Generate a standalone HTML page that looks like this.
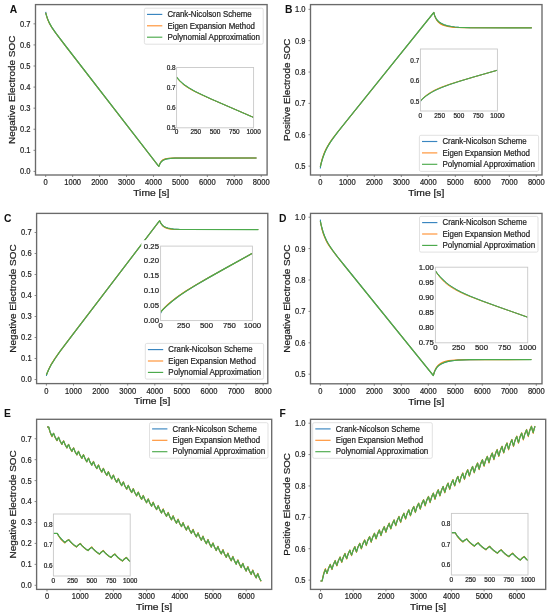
<!DOCTYPE html>
<html><head><meta charset="utf-8"><title>SOC comparison</title>
<style>html,body{margin:0;padding:0;background:#fff;} svg{display:block;will-change:transform;} text{font-family:"Liberation Sans", sans-serif;}</style>
</head><body>
<svg width="550" height="615" viewBox="0 0 550 615" font-family='"Liberation Sans", sans-serif'>
<rect x="0" y="0" width="550" height="615" fill="#fff"/>
<g>
<clipPath id="cA"><rect x="35.5" y="4.6" width="231.60000000000002" height="170.4"/></clipPath>
<g clip-path="url(#cA)" fill="none" stroke-linejoin="round" stroke-linecap="butt">
<path d="M45.7,11.9 46.1,14.5 46.7,16.4 47.8,19.4 49.1,22.4 50.4,24.9 51.9,27.4 56.0,33.4 66.3,46.9 158.6,166.2 158.8,166.4 159.8,164.1 160.7,162.5 161.6,161.4 162.8,160.4 164.2,159.7 165.9,159.1 168.0,158.7 170.3,158.4 175.0,158.1 182.7,158.1 256.5,158.0" stroke="#1f77b4" stroke-width="1.03"/>
<path d="M45.7,12.9 47.2,18.2 48.9,22.6 51.3,26.8 54.9,32.0 63.7,43.6 158.6,166.2 158.8,166.4 159.5,164.3 160.5,162.5 161.4,161.2 162.3,160.3 163.5,159.5 164.9,159.0 166.8,158.6 168.9,158.3 172.9,158.1 179.4,158.0 256.5,158.0" stroke="#ff7f0e" stroke-width="1.03"/>
<path d="M45.7,12.9 47.4,18.4 49.6,23.4 52.3,28.1 56.4,33.9 66.8,47.5 158.6,166.2 158.8,166.4 159.8,164.1 160.7,162.5 161.6,161.4 162.8,160.4 164.2,159.7 165.9,159.1 168.0,158.7 170.3,158.4 175.0,158.1 182.7,158.1 256.5,158.0" stroke="#4caa4c" stroke-width="1.24"/>
</g>
<rect x="35.5" y="4.6" width="231.60000000000002" height="170.4" fill="none" stroke="#6a6a6a" stroke-width="1.35"/>
<line x1="45.70" y1="175.0" x2="45.70" y2="177.0" stroke="#6a6a6a" stroke-width="0.8"/>
<text x="45.70" y="185.00" font-size="8.80" text-anchor="middle" fill="#1e1e1e" stroke="#1e1e1e" stroke-width="0.22" font-weight="normal" textLength="4.20" lengthAdjust="spacingAndGlyphs">0</text>
<line x1="72.64" y1="175.0" x2="72.64" y2="177.0" stroke="#6a6a6a" stroke-width="0.8"/>
<text x="72.64" y="185.00" font-size="8.80" text-anchor="middle" fill="#1e1e1e" stroke="#1e1e1e" stroke-width="0.22" font-weight="normal" textLength="16.80" lengthAdjust="spacingAndGlyphs">1000</text>
<line x1="99.58" y1="175.0" x2="99.58" y2="177.0" stroke="#6a6a6a" stroke-width="0.8"/>
<text x="99.58" y="185.00" font-size="8.80" text-anchor="middle" fill="#1e1e1e" stroke="#1e1e1e" stroke-width="0.22" font-weight="normal" textLength="16.80" lengthAdjust="spacingAndGlyphs">2000</text>
<line x1="126.52" y1="175.0" x2="126.52" y2="177.0" stroke="#6a6a6a" stroke-width="0.8"/>
<text x="126.52" y="185.00" font-size="8.80" text-anchor="middle" fill="#1e1e1e" stroke="#1e1e1e" stroke-width="0.22" font-weight="normal" textLength="16.80" lengthAdjust="spacingAndGlyphs">3000</text>
<line x1="153.46" y1="175.0" x2="153.46" y2="177.0" stroke="#6a6a6a" stroke-width="0.8"/>
<text x="153.46" y="185.00" font-size="8.80" text-anchor="middle" fill="#1e1e1e" stroke="#1e1e1e" stroke-width="0.22" font-weight="normal" textLength="16.80" lengthAdjust="spacingAndGlyphs">4000</text>
<line x1="180.40" y1="175.0" x2="180.40" y2="177.0" stroke="#6a6a6a" stroke-width="0.8"/>
<text x="180.40" y="185.00" font-size="8.80" text-anchor="middle" fill="#1e1e1e" stroke="#1e1e1e" stroke-width="0.22" font-weight="normal" textLength="16.80" lengthAdjust="spacingAndGlyphs">5000</text>
<line x1="207.34" y1="175.0" x2="207.34" y2="177.0" stroke="#6a6a6a" stroke-width="0.8"/>
<text x="207.34" y="185.00" font-size="8.80" text-anchor="middle" fill="#1e1e1e" stroke="#1e1e1e" stroke-width="0.22" font-weight="normal" textLength="16.80" lengthAdjust="spacingAndGlyphs">6000</text>
<line x1="234.28" y1="175.0" x2="234.28" y2="177.0" stroke="#6a6a6a" stroke-width="0.8"/>
<text x="234.28" y="185.00" font-size="8.80" text-anchor="middle" fill="#1e1e1e" stroke="#1e1e1e" stroke-width="0.22" font-weight="normal" textLength="16.80" lengthAdjust="spacingAndGlyphs">7000</text>
<line x1="261.22" y1="175.0" x2="261.22" y2="177.0" stroke="#6a6a6a" stroke-width="0.8"/>
<text x="261.22" y="185.00" font-size="8.80" text-anchor="middle" fill="#1e1e1e" stroke="#1e1e1e" stroke-width="0.22" font-weight="normal" textLength="16.80" lengthAdjust="spacingAndGlyphs">8000</text>
<line x1="33.5" y1="171.40" x2="35.5" y2="171.40" stroke="#6a6a6a" stroke-width="0.8"/>
<text x="30.50" y="174.30" font-size="8.80" text-anchor="end" fill="#1e1e1e" stroke="#1e1e1e" stroke-width="0.22" font-weight="normal" textLength="10.50" lengthAdjust="spacingAndGlyphs">0.0</text>
<line x1="33.5" y1="150.32" x2="35.5" y2="150.32" stroke="#6a6a6a" stroke-width="0.8"/>
<text x="30.50" y="153.22" font-size="8.80" text-anchor="end" fill="#1e1e1e" stroke="#1e1e1e" stroke-width="0.22" font-weight="normal" textLength="10.50" lengthAdjust="spacingAndGlyphs">0.1</text>
<line x1="33.5" y1="129.24" x2="35.5" y2="129.24" stroke="#6a6a6a" stroke-width="0.8"/>
<text x="30.50" y="132.14" font-size="8.80" text-anchor="end" fill="#1e1e1e" stroke="#1e1e1e" stroke-width="0.22" font-weight="normal" textLength="10.50" lengthAdjust="spacingAndGlyphs">0.2</text>
<line x1="33.5" y1="108.16" x2="35.5" y2="108.16" stroke="#6a6a6a" stroke-width="0.8"/>
<text x="30.50" y="111.06" font-size="8.80" text-anchor="end" fill="#1e1e1e" stroke="#1e1e1e" stroke-width="0.22" font-weight="normal" textLength="10.50" lengthAdjust="spacingAndGlyphs">0.3</text>
<line x1="33.5" y1="87.08" x2="35.5" y2="87.08" stroke="#6a6a6a" stroke-width="0.8"/>
<text x="30.50" y="89.98" font-size="8.80" text-anchor="end" fill="#1e1e1e" stroke="#1e1e1e" stroke-width="0.22" font-weight="normal" textLength="10.50" lengthAdjust="spacingAndGlyphs">0.4</text>
<line x1="33.5" y1="66.00" x2="35.5" y2="66.00" stroke="#6a6a6a" stroke-width="0.8"/>
<text x="30.50" y="68.90" font-size="8.80" text-anchor="end" fill="#1e1e1e" stroke="#1e1e1e" stroke-width="0.22" font-weight="normal" textLength="10.50" lengthAdjust="spacingAndGlyphs">0.5</text>
<line x1="33.5" y1="44.92" x2="35.5" y2="44.92" stroke="#6a6a6a" stroke-width="0.8"/>
<text x="30.50" y="47.82" font-size="8.80" text-anchor="end" fill="#1e1e1e" stroke="#1e1e1e" stroke-width="0.22" font-weight="normal" textLength="10.50" lengthAdjust="spacingAndGlyphs">0.6</text>
<line x1="33.5" y1="23.84" x2="35.5" y2="23.84" stroke="#6a6a6a" stroke-width="0.8"/>
<text x="30.50" y="26.74" font-size="8.80" text-anchor="end" fill="#1e1e1e" stroke="#1e1e1e" stroke-width="0.22" font-weight="normal" textLength="10.50" lengthAdjust="spacingAndGlyphs">0.7</text>
<text x="151.30" y="195.70" font-size="8.60" text-anchor="middle" fill="#1e1e1e" stroke="#1e1e1e" stroke-width="0.22" font-weight="normal" textLength="36.19" lengthAdjust="spacingAndGlyphs">Time [s]</text>
<text x="14.90" y="89.80" font-size="8.60" text-anchor="middle" fill="#1e1e1e" stroke="#1e1e1e" stroke-width="0.22" font-weight="normal" textLength="108.25" lengthAdjust="spacingAndGlyphs" transform="rotate(-90 14.90 89.80)">Negative Electrode SOC</text>
<text x="9.8" y="13.1" font-size="10.3" font-weight="bold" fill="#111">A</text>
<rect x="144.4" y="8.2" width="118.79999999999998" height="36.0" rx="1.5" fill="#fff" fill-opacity="0.85" stroke="#d9d9d9" stroke-width="0.8"/>
<line x1="147.0" y1="14.40" x2="162.3" y2="14.40" stroke="#3a86c0" stroke-width="1.15"/>
<text x="167.40" y="17.10" font-size="8.50" text-anchor="start" fill="#1e1e1e" stroke="#1e1e1e" stroke-width="0.22" font-weight="normal" textLength="84.27" lengthAdjust="spacingAndGlyphs">Crank-Nicolson Scheme</text>
<line x1="147.0" y1="25.80" x2="162.3" y2="25.80" stroke="#ff9233" stroke-width="1.15"/>
<text x="167.40" y="28.50" font-size="8.50" text-anchor="start" fill="#1e1e1e" stroke="#1e1e1e" stroke-width="0.22" font-weight="normal" textLength="87.54" lengthAdjust="spacingAndGlyphs">Eigen Expansion Method</text>
<line x1="147.0" y1="37.20" x2="162.3" y2="37.20" stroke="#4caa4c" stroke-width="1.15"/>
<text x="167.40" y="39.90" font-size="8.50" text-anchor="start" fill="#1e1e1e" stroke="#1e1e1e" stroke-width="0.22" font-weight="normal" textLength="92.66" lengthAdjust="spacingAndGlyphs">Polynomial Approximation</text>
<rect x="176.6" y="67.5" width="77.0" height="60.3" fill="#fff" stroke="none"/>
<clipPath id="iA"><rect x="176.6" y="67.5" width="77.0" height="60.3"/></clipPath>
<g clip-path="url(#iA)" fill="none" stroke-linejoin="round">
<path d="M176.6,77.1 178.3,79.2 180.1,81.1 182.1,82.9 184.2,84.7 189.1,88.0 195.1,91.4 202.0,94.8 211.2,99.1 253.6,117.4" stroke="#1f77b4" stroke-width="0.95"/>
<path d="M176.6,77.1 178.1,79.2 179.7,81.1 181.4,82.8 183.2,84.4 185.3,86.0 187.5,87.5 193.0,90.7 199.2,93.7 207.9,97.7 253.6,117.4" stroke="#ff7f0e" stroke-width="0.95"/>
<path d="M176.6,77.1 178.3,79.2 180.1,81.1 182.1,82.9 184.2,84.7 189.1,88.0 195.1,91.4 202.0,94.8 211.2,99.1 253.6,117.4" stroke="#4caa4c" stroke-width="1.13"/>
</g>
<rect x="176.6" y="67.5" width="77.0" height="60.3" fill="none" stroke="#c8c8c8" stroke-width="0.9"/>
<text x="176.60" y="134.32" font-size="6.38" text-anchor="middle" fill="#1e1e1e" stroke="#1e1e1e" stroke-width="0.22" font-weight="normal" textLength="3.56" lengthAdjust="spacingAndGlyphs">0</text>
<text x="195.85" y="134.32" font-size="6.38" text-anchor="middle" fill="#1e1e1e" stroke="#1e1e1e" stroke-width="0.22" font-weight="normal" textLength="10.69" lengthAdjust="spacingAndGlyphs">250</text>
<text x="215.10" y="134.32" font-size="6.38" text-anchor="middle" fill="#1e1e1e" stroke="#1e1e1e" stroke-width="0.22" font-weight="normal" textLength="10.69" lengthAdjust="spacingAndGlyphs">500</text>
<text x="234.35" y="134.32" font-size="6.38" text-anchor="middle" fill="#1e1e1e" stroke="#1e1e1e" stroke-width="0.22" font-weight="normal" textLength="10.69" lengthAdjust="spacingAndGlyphs">750</text>
<text x="253.60" y="134.32" font-size="6.38" text-anchor="middle" fill="#1e1e1e" stroke="#1e1e1e" stroke-width="0.22" font-weight="normal" textLength="14.25" lengthAdjust="spacingAndGlyphs">1000</text>
<text x="175.60" y="129.82" font-size="6.38" text-anchor="end" fill="#1e1e1e" stroke="#1e1e1e" stroke-width="0.22" font-weight="normal" textLength="8.91" lengthAdjust="spacingAndGlyphs">0.5</text>
<text x="175.60" y="109.72" font-size="6.38" text-anchor="end" fill="#1e1e1e" stroke="#1e1e1e" stroke-width="0.22" font-weight="normal" textLength="8.91" lengthAdjust="spacingAndGlyphs">0.6</text>
<text x="175.60" y="89.62" font-size="6.38" text-anchor="end" fill="#1e1e1e" stroke="#1e1e1e" stroke-width="0.22" font-weight="normal" textLength="8.91" lengthAdjust="spacingAndGlyphs">0.7</text>
<text x="175.60" y="69.52" font-size="6.38" text-anchor="end" fill="#1e1e1e" stroke="#1e1e1e" stroke-width="0.22" font-weight="normal" textLength="8.91" lengthAdjust="spacingAndGlyphs">0.8</text>
</g>
<g>
<clipPath id="cB"><rect x="310.5" y="4.6" width="231.5" height="170.4"/></clipPath>
<g clip-path="url(#cB)" fill="none" stroke-linejoin="round" stroke-linecap="butt">
<path d="M320.3,168.5 320.7,165.1 321.8,161.2 323.2,156.5 324.8,152.3 326.5,148.7 328.4,145.3 330.7,141.7 333.5,137.7 338.4,131.2 346.4,121.2 433.8,12.5 434.7,15.7 435.9,18.3 437.3,20.3 439.0,22.0 441.3,23.5 444.1,24.8 447.4,25.8 451.2,26.5 454.7,27.0 458.7,27.3 469.8,27.7 531.8,27.8" stroke="#1f77b4" stroke-width="1.03"/>
<path d="M320.3,167.0 321.2,162.7 322.2,158.7 323.4,155.2 324.6,151.9 326.0,148.9 327.7,145.9 329.6,142.8 332.0,139.4 336.3,133.8 343.6,124.7 433.8,12.5 434.7,15.9 435.7,18.3 436.9,20.4 438.5,22.4 440.6,24.0 443.0,25.2 445.8,26.1 449.1,26.8 452.1,27.2 455.7,27.4 465.5,27.7 531.8,27.8" stroke="#ff7f0e" stroke-width="1.03"/>
<path d="M320.3,167.0 321.4,162.5 322.6,158.4 323.9,154.7 325.3,151.2 326.9,147.9 328.8,144.6 331.0,141.2 333.7,137.4 338.6,130.9 346.6,120.9 433.8,12.5 434.7,15.7 435.9,18.3 437.3,20.3 439.0,22.0 441.3,23.5 444.1,24.8 447.4,25.8 451.2,26.5 454.7,27.0 458.7,27.3 469.8,27.7 531.8,27.8" stroke="#4caa4c" stroke-width="1.24"/>
</g>
<rect x="310.5" y="4.6" width="231.5" height="170.4" fill="none" stroke="#6a6a6a" stroke-width="1.35"/>
<line x1="320.30" y1="175.0" x2="320.30" y2="177.0" stroke="#6a6a6a" stroke-width="0.8"/>
<text x="320.30" y="185.00" font-size="8.80" text-anchor="middle" fill="#1e1e1e" stroke="#1e1e1e" stroke-width="0.22" font-weight="normal" textLength="4.20" lengthAdjust="spacingAndGlyphs">0</text>
<line x1="347.30" y1="175.0" x2="347.30" y2="177.0" stroke="#6a6a6a" stroke-width="0.8"/>
<text x="347.30" y="185.00" font-size="8.80" text-anchor="middle" fill="#1e1e1e" stroke="#1e1e1e" stroke-width="0.22" font-weight="normal" textLength="16.80" lengthAdjust="spacingAndGlyphs">1000</text>
<line x1="374.30" y1="175.0" x2="374.30" y2="177.0" stroke="#6a6a6a" stroke-width="0.8"/>
<text x="374.30" y="185.00" font-size="8.80" text-anchor="middle" fill="#1e1e1e" stroke="#1e1e1e" stroke-width="0.22" font-weight="normal" textLength="16.80" lengthAdjust="spacingAndGlyphs">2000</text>
<line x1="401.30" y1="175.0" x2="401.30" y2="177.0" stroke="#6a6a6a" stroke-width="0.8"/>
<text x="401.30" y="185.00" font-size="8.80" text-anchor="middle" fill="#1e1e1e" stroke="#1e1e1e" stroke-width="0.22" font-weight="normal" textLength="16.80" lengthAdjust="spacingAndGlyphs">3000</text>
<line x1="428.30" y1="175.0" x2="428.30" y2="177.0" stroke="#6a6a6a" stroke-width="0.8"/>
<text x="428.30" y="185.00" font-size="8.80" text-anchor="middle" fill="#1e1e1e" stroke="#1e1e1e" stroke-width="0.22" font-weight="normal" textLength="16.80" lengthAdjust="spacingAndGlyphs">4000</text>
<line x1="455.30" y1="175.0" x2="455.30" y2="177.0" stroke="#6a6a6a" stroke-width="0.8"/>
<text x="455.30" y="185.00" font-size="8.80" text-anchor="middle" fill="#1e1e1e" stroke="#1e1e1e" stroke-width="0.22" font-weight="normal" textLength="16.80" lengthAdjust="spacingAndGlyphs">5000</text>
<line x1="482.30" y1="175.0" x2="482.30" y2="177.0" stroke="#6a6a6a" stroke-width="0.8"/>
<text x="482.30" y="185.00" font-size="8.80" text-anchor="middle" fill="#1e1e1e" stroke="#1e1e1e" stroke-width="0.22" font-weight="normal" textLength="16.80" lengthAdjust="spacingAndGlyphs">6000</text>
<line x1="509.30" y1="175.0" x2="509.30" y2="177.0" stroke="#6a6a6a" stroke-width="0.8"/>
<text x="509.30" y="185.00" font-size="8.80" text-anchor="middle" fill="#1e1e1e" stroke="#1e1e1e" stroke-width="0.22" font-weight="normal" textLength="16.80" lengthAdjust="spacingAndGlyphs">7000</text>
<line x1="536.30" y1="175.0" x2="536.30" y2="177.0" stroke="#6a6a6a" stroke-width="0.8"/>
<text x="536.30" y="185.00" font-size="8.80" text-anchor="middle" fill="#1e1e1e" stroke="#1e1e1e" stroke-width="0.22" font-weight="normal" textLength="16.80" lengthAdjust="spacingAndGlyphs">8000</text>
<line x1="308.5" y1="166.10" x2="310.5" y2="166.10" stroke="#6a6a6a" stroke-width="0.8"/>
<text x="305.50" y="169.00" font-size="8.80" text-anchor="end" fill="#1e1e1e" stroke="#1e1e1e" stroke-width="0.22" font-weight="normal" textLength="10.50" lengthAdjust="spacingAndGlyphs">0.5</text>
<line x1="308.5" y1="134.74" x2="310.5" y2="134.74" stroke="#6a6a6a" stroke-width="0.8"/>
<text x="305.50" y="137.64" font-size="8.80" text-anchor="end" fill="#1e1e1e" stroke="#1e1e1e" stroke-width="0.22" font-weight="normal" textLength="10.50" lengthAdjust="spacingAndGlyphs">0.6</text>
<line x1="308.5" y1="103.38" x2="310.5" y2="103.38" stroke="#6a6a6a" stroke-width="0.8"/>
<text x="305.50" y="106.28" font-size="8.80" text-anchor="end" fill="#1e1e1e" stroke="#1e1e1e" stroke-width="0.22" font-weight="normal" textLength="10.50" lengthAdjust="spacingAndGlyphs">0.7</text>
<line x1="308.5" y1="72.02" x2="310.5" y2="72.02" stroke="#6a6a6a" stroke-width="0.8"/>
<text x="305.50" y="74.92" font-size="8.80" text-anchor="end" fill="#1e1e1e" stroke="#1e1e1e" stroke-width="0.22" font-weight="normal" textLength="10.50" lengthAdjust="spacingAndGlyphs">0.8</text>
<line x1="308.5" y1="40.66" x2="310.5" y2="40.66" stroke="#6a6a6a" stroke-width="0.8"/>
<text x="305.50" y="43.56" font-size="8.80" text-anchor="end" fill="#1e1e1e" stroke="#1e1e1e" stroke-width="0.22" font-weight="normal" textLength="10.50" lengthAdjust="spacingAndGlyphs">0.9</text>
<line x1="308.5" y1="9.30" x2="310.5" y2="9.30" stroke="#6a6a6a" stroke-width="0.8"/>
<text x="305.50" y="12.20" font-size="8.80" text-anchor="end" fill="#1e1e1e" stroke="#1e1e1e" stroke-width="0.22" font-weight="normal" textLength="10.50" lengthAdjust="spacingAndGlyphs">1.0</text>
<text x="426.25" y="195.70" font-size="8.60" text-anchor="middle" fill="#1e1e1e" stroke="#1e1e1e" stroke-width="0.22" font-weight="normal" textLength="36.19" lengthAdjust="spacingAndGlyphs">Time [s]</text>
<text x="289.90" y="89.80" font-size="8.60" text-anchor="middle" fill="#1e1e1e" stroke="#1e1e1e" stroke-width="0.22" font-weight="normal" textLength="102.52" lengthAdjust="spacingAndGlyphs" transform="rotate(-90 289.90 89.80)">Positive Electrode SOC</text>
<text x="285.1" y="13.1" font-size="10.3" font-weight="bold" fill="#111">B</text>
<rect x="419.4" y="135.3" width="119.20000000000005" height="36.099999999999994" rx="1.5" fill="#fff" fill-opacity="0.85" stroke="#d9d9d9" stroke-width="0.8"/>
<line x1="422.0" y1="141.50" x2="437.29999999999995" y2="141.50" stroke="#3a86c0" stroke-width="1.15"/>
<text x="442.40" y="144.20" font-size="8.50" text-anchor="start" fill="#1e1e1e" stroke="#1e1e1e" stroke-width="0.22" font-weight="normal" textLength="84.27" lengthAdjust="spacingAndGlyphs">Crank-Nicolson Scheme</text>
<line x1="422.0" y1="152.90" x2="437.29999999999995" y2="152.90" stroke="#ff9233" stroke-width="1.15"/>
<text x="442.40" y="155.60" font-size="8.50" text-anchor="start" fill="#1e1e1e" stroke="#1e1e1e" stroke-width="0.22" font-weight="normal" textLength="87.54" lengthAdjust="spacingAndGlyphs">Eigen Expansion Method</text>
<line x1="422.0" y1="164.30" x2="437.29999999999995" y2="164.30" stroke="#4caa4c" stroke-width="1.15"/>
<text x="442.40" y="167.00" font-size="8.50" text-anchor="start" fill="#1e1e1e" stroke="#1e1e1e" stroke-width="0.22" font-weight="normal" textLength="92.66" lengthAdjust="spacingAndGlyphs">Polynomial Approximation</text>
<rect x="420.4" y="49.0" width="77.0" height="62.0" fill="#fff" stroke="none"/>
<clipPath id="iB"><rect x="420.4" y="49.0" width="77.0" height="62.0"/></clipPath>
<g clip-path="url(#iB)" fill="none" stroke-linejoin="round">
<path d="M420.4,101.9 421.7,99.7 424.7,97.0 427.9,94.6 430.8,92.8 434.0,91.0 437.3,89.3 441.2,87.7 449.1,84.7 459.7,81.2 473.8,77.0 497.4,70.2" stroke="#1f77b4" stroke-width="0.85"/>
<path d="M420.4,101.0 422.2,98.9 424.2,97.0 426.4,95.2 428.7,93.5 431.3,91.9 434.0,90.4 440.4,87.5 447.9,84.8 457.6,81.7 497.4,70.2" stroke="#ff7f0e" stroke-width="0.85"/>
<path d="M420.4,101.0 422.5,98.9 424.7,97.0 427.1,95.2 429.6,93.5 432.3,91.9 435.3,90.3 442.2,87.3 450.2,84.3 460.4,81.0 474.3,76.8 497.4,70.2" stroke="#4caa4c" stroke-width="1.03"/>
</g>
<rect x="420.4" y="49.0" width="77.0" height="62.0" fill="none" stroke="#c8c8c8" stroke-width="0.9"/>
<text x="420.40" y="117.52" font-size="6.38" text-anchor="middle" fill="#1e1e1e" stroke="#1e1e1e" stroke-width="0.22" font-weight="normal" textLength="3.56" lengthAdjust="spacingAndGlyphs">0</text>
<text x="439.65" y="117.52" font-size="6.38" text-anchor="middle" fill="#1e1e1e" stroke="#1e1e1e" stroke-width="0.22" font-weight="normal" textLength="10.69" lengthAdjust="spacingAndGlyphs">250</text>
<text x="458.90" y="117.52" font-size="6.38" text-anchor="middle" fill="#1e1e1e" stroke="#1e1e1e" stroke-width="0.22" font-weight="normal" textLength="10.69" lengthAdjust="spacingAndGlyphs">500</text>
<text x="478.15" y="117.52" font-size="6.38" text-anchor="middle" fill="#1e1e1e" stroke="#1e1e1e" stroke-width="0.22" font-weight="normal" textLength="10.69" lengthAdjust="spacingAndGlyphs">750</text>
<text x="497.40" y="117.52" font-size="6.38" text-anchor="middle" fill="#1e1e1e" stroke="#1e1e1e" stroke-width="0.22" font-weight="normal" textLength="14.25" lengthAdjust="spacingAndGlyphs">1000</text>
<text x="419.30" y="103.97" font-size="6.38" text-anchor="end" fill="#1e1e1e" stroke="#1e1e1e" stroke-width="0.22" font-weight="normal" textLength="8.91" lengthAdjust="spacingAndGlyphs">0.5</text>
<text x="419.30" y="83.44" font-size="6.38" text-anchor="end" fill="#1e1e1e" stroke="#1e1e1e" stroke-width="0.22" font-weight="normal" textLength="8.91" lengthAdjust="spacingAndGlyphs">0.6</text>
<text x="419.30" y="62.91" font-size="6.38" text-anchor="end" fill="#1e1e1e" stroke="#1e1e1e" stroke-width="0.22" font-weight="normal" textLength="8.91" lengthAdjust="spacingAndGlyphs">0.7</text>
</g>
<g>
<clipPath id="cC"><rect x="36.6" y="213.4" width="231.20000000000002" height="170.20000000000002"/></clipPath>
<g clip-path="url(#cC)" fill="none" stroke-linejoin="round" stroke-linecap="butt">
<path d="M46.4,375.8 46.8,373.8 47.5,372.2 49.1,368.7 50.8,365.3 54.6,359.2 59.8,351.7 73.5,333.6 159.6,220.7 160.8,223.1 161.8,224.5 162.9,225.7 164.3,226.7 166.0,227.5 168.1,228.2 170.5,228.7 173.5,229.1 179.4,229.4 188.4,229.5 258.3,229.6" stroke="#1f77b4" stroke-width="1.03"/>
<path d="M46.4,374.9 48.5,369.7 51.0,364.6 54.3,359.4 58.9,352.9 71.1,336.6 159.6,220.7 160.8,223.3 161.5,224.5 162.7,226.0 163.9,226.9 165.3,227.7 167.2,228.4 169.3,228.9 171.9,229.2 176.8,229.4 184.8,229.5 258.3,229.6" stroke="#ff7f0e" stroke-width="1.03"/>
<path d="M46.4,374.9 48.8,369.3 51.7,363.8 55.4,358.0 60.5,350.7 74.2,332.6 159.6,220.7 160.8,223.1 161.8,224.5 162.9,225.7 164.3,226.7 166.0,227.5 168.1,228.2 170.5,228.7 173.5,229.1 179.4,229.4 188.4,229.5 258.3,229.6" stroke="#4caa4c" stroke-width="1.24"/>
</g>
<rect x="36.6" y="213.4" width="231.20000000000002" height="170.20000000000002" fill="none" stroke="#6a6a6a" stroke-width="1.35"/>
<line x1="46.40" y1="383.6" x2="46.40" y2="385.6" stroke="#6a6a6a" stroke-width="0.8"/>
<text x="46.40" y="393.60" font-size="8.80" text-anchor="middle" fill="#1e1e1e" stroke="#1e1e1e" stroke-width="0.22" font-weight="normal" textLength="4.20" lengthAdjust="spacingAndGlyphs">0</text>
<line x1="73.50" y1="383.6" x2="73.50" y2="385.6" stroke="#6a6a6a" stroke-width="0.8"/>
<text x="73.50" y="393.60" font-size="8.80" text-anchor="middle" fill="#1e1e1e" stroke="#1e1e1e" stroke-width="0.22" font-weight="normal" textLength="16.80" lengthAdjust="spacingAndGlyphs">1000</text>
<line x1="100.60" y1="383.6" x2="100.60" y2="385.6" stroke="#6a6a6a" stroke-width="0.8"/>
<text x="100.60" y="393.60" font-size="8.80" text-anchor="middle" fill="#1e1e1e" stroke="#1e1e1e" stroke-width="0.22" font-weight="normal" textLength="16.80" lengthAdjust="spacingAndGlyphs">2000</text>
<line x1="127.70" y1="383.6" x2="127.70" y2="385.6" stroke="#6a6a6a" stroke-width="0.8"/>
<text x="127.70" y="393.60" font-size="8.80" text-anchor="middle" fill="#1e1e1e" stroke="#1e1e1e" stroke-width="0.22" font-weight="normal" textLength="16.80" lengthAdjust="spacingAndGlyphs">3000</text>
<line x1="154.80" y1="383.6" x2="154.80" y2="385.6" stroke="#6a6a6a" stroke-width="0.8"/>
<text x="154.80" y="393.60" font-size="8.80" text-anchor="middle" fill="#1e1e1e" stroke="#1e1e1e" stroke-width="0.22" font-weight="normal" textLength="16.80" lengthAdjust="spacingAndGlyphs">4000</text>
<line x1="181.90" y1="383.6" x2="181.90" y2="385.6" stroke="#6a6a6a" stroke-width="0.8"/>
<text x="181.90" y="393.60" font-size="8.80" text-anchor="middle" fill="#1e1e1e" stroke="#1e1e1e" stroke-width="0.22" font-weight="normal" textLength="16.80" lengthAdjust="spacingAndGlyphs">5000</text>
<line x1="209.00" y1="383.6" x2="209.00" y2="385.6" stroke="#6a6a6a" stroke-width="0.8"/>
<text x="209.00" y="393.60" font-size="8.80" text-anchor="middle" fill="#1e1e1e" stroke="#1e1e1e" stroke-width="0.22" font-weight="normal" textLength="16.80" lengthAdjust="spacingAndGlyphs">6000</text>
<line x1="236.10" y1="383.6" x2="236.10" y2="385.6" stroke="#6a6a6a" stroke-width="0.8"/>
<text x="236.10" y="393.60" font-size="8.80" text-anchor="middle" fill="#1e1e1e" stroke="#1e1e1e" stroke-width="0.22" font-weight="normal" textLength="16.80" lengthAdjust="spacingAndGlyphs">7000</text>
<line x1="263.20" y1="383.6" x2="263.20" y2="385.6" stroke="#6a6a6a" stroke-width="0.8"/>
<text x="263.20" y="393.60" font-size="8.80" text-anchor="middle" fill="#1e1e1e" stroke="#1e1e1e" stroke-width="0.22" font-weight="normal" textLength="16.80" lengthAdjust="spacingAndGlyphs">8000</text>
<line x1="34.6" y1="379.50" x2="36.6" y2="379.50" stroke="#6a6a6a" stroke-width="0.8"/>
<text x="31.60" y="382.40" font-size="8.80" text-anchor="end" fill="#1e1e1e" stroke="#1e1e1e" stroke-width="0.22" font-weight="normal" textLength="10.50" lengthAdjust="spacingAndGlyphs">0.0</text>
<line x1="34.6" y1="358.50" x2="36.6" y2="358.50" stroke="#6a6a6a" stroke-width="0.8"/>
<text x="31.60" y="361.40" font-size="8.80" text-anchor="end" fill="#1e1e1e" stroke="#1e1e1e" stroke-width="0.22" font-weight="normal" textLength="10.50" lengthAdjust="spacingAndGlyphs">0.1</text>
<line x1="34.6" y1="337.50" x2="36.6" y2="337.50" stroke="#6a6a6a" stroke-width="0.8"/>
<text x="31.60" y="340.40" font-size="8.80" text-anchor="end" fill="#1e1e1e" stroke="#1e1e1e" stroke-width="0.22" font-weight="normal" textLength="10.50" lengthAdjust="spacingAndGlyphs">0.2</text>
<line x1="34.6" y1="316.50" x2="36.6" y2="316.50" stroke="#6a6a6a" stroke-width="0.8"/>
<text x="31.60" y="319.40" font-size="8.80" text-anchor="end" fill="#1e1e1e" stroke="#1e1e1e" stroke-width="0.22" font-weight="normal" textLength="10.50" lengthAdjust="spacingAndGlyphs">0.3</text>
<line x1="34.6" y1="295.50" x2="36.6" y2="295.50" stroke="#6a6a6a" stroke-width="0.8"/>
<text x="31.60" y="298.40" font-size="8.80" text-anchor="end" fill="#1e1e1e" stroke="#1e1e1e" stroke-width="0.22" font-weight="normal" textLength="10.50" lengthAdjust="spacingAndGlyphs">0.4</text>
<line x1="34.6" y1="274.50" x2="36.6" y2="274.50" stroke="#6a6a6a" stroke-width="0.8"/>
<text x="31.60" y="277.40" font-size="8.80" text-anchor="end" fill="#1e1e1e" stroke="#1e1e1e" stroke-width="0.22" font-weight="normal" textLength="10.50" lengthAdjust="spacingAndGlyphs">0.5</text>
<line x1="34.6" y1="253.50" x2="36.6" y2="253.50" stroke="#6a6a6a" stroke-width="0.8"/>
<text x="31.60" y="256.40" font-size="8.80" text-anchor="end" fill="#1e1e1e" stroke="#1e1e1e" stroke-width="0.22" font-weight="normal" textLength="10.50" lengthAdjust="spacingAndGlyphs">0.6</text>
<line x1="34.6" y1="232.50" x2="36.6" y2="232.50" stroke="#6a6a6a" stroke-width="0.8"/>
<text x="31.60" y="235.40" font-size="8.80" text-anchor="end" fill="#1e1e1e" stroke="#1e1e1e" stroke-width="0.22" font-weight="normal" textLength="10.50" lengthAdjust="spacingAndGlyphs">0.7</text>
<text x="152.20" y="404.30" font-size="8.60" text-anchor="middle" fill="#1e1e1e" stroke="#1e1e1e" stroke-width="0.22" font-weight="normal" textLength="36.19" lengthAdjust="spacingAndGlyphs">Time [s]</text>
<text x="16.00" y="298.50" font-size="8.60" text-anchor="middle" fill="#1e1e1e" stroke="#1e1e1e" stroke-width="0.22" font-weight="normal" textLength="108.25" lengthAdjust="spacingAndGlyphs" transform="rotate(-90 16.00 298.50)">Negative Electrode SOC</text>
<text x="4.1" y="221.9" font-size="10.3" font-weight="bold" fill="#111">C</text>
<rect x="145.3" y="343.4" width="118.30000000000001" height="35.700000000000045" rx="1.5" fill="#fff" fill-opacity="0.85" stroke="#d9d9d9" stroke-width="0.8"/>
<line x1="147.9" y1="349.60" x2="163.20000000000002" y2="349.60" stroke="#3a86c0" stroke-width="1.15"/>
<text x="168.30" y="352.30" font-size="8.50" text-anchor="start" fill="#1e1e1e" stroke="#1e1e1e" stroke-width="0.22" font-weight="normal" textLength="84.27" lengthAdjust="spacingAndGlyphs">Crank-Nicolson Scheme</text>
<line x1="147.9" y1="361.00" x2="163.20000000000002" y2="361.00" stroke="#ff9233" stroke-width="1.15"/>
<text x="168.30" y="363.70" font-size="8.50" text-anchor="start" fill="#1e1e1e" stroke="#1e1e1e" stroke-width="0.22" font-weight="normal" textLength="87.54" lengthAdjust="spacingAndGlyphs">Eigen Expansion Method</text>
<line x1="147.9" y1="372.40" x2="163.20000000000002" y2="372.40" stroke="#4caa4c" stroke-width="1.15"/>
<text x="168.30" y="375.10" font-size="8.50" text-anchor="start" fill="#1e1e1e" stroke="#1e1e1e" stroke-width="0.22" font-weight="normal" textLength="92.66" lengthAdjust="spacingAndGlyphs">Polynomial Approximation</text>
<rect x="141.3" y="240.2" width="121.69999999999999" height="91.80000000000001" fill="#fff" stroke="none"/>
<rect x="160.6" y="246.1" width="91.80000000000001" height="74.50000000000003" fill="#fff" stroke="none"/>
<clipPath id="iC"><rect x="160.6" y="246.1" width="91.80000000000001" height="74.50000000000003"/></clipPath>
<g clip-path="url(#iC)" fill="none" stroke-linejoin="round">
<path d="M160.6,313.4 162.0,310.5 165.2,307.3 168.7,304.1 172.3,301.1 176.2,298.0 180.5,294.9 185.4,291.6 195.2,285.5 207.7,278.2 224.9,268.5 252.4,253.3" stroke="#1f77b4" stroke-width="1.03"/>
<path d="M160.6,312.0 163.0,309.3 165.5,306.7 168.1,304.1 171.0,301.6 177.5,296.6 185.4,291.2 194.6,285.6 206.5,278.7 252.4,253.3" stroke="#ff7f0e" stroke-width="1.03"/>
<path d="M160.6,312.0 163.2,309.3 165.9,306.6 172.1,301.2 179.3,295.8 187.5,290.3 197.3,284.2 209.6,277.1 226.1,267.9 252.4,253.3" stroke="#4caa4c" stroke-width="1.24"/>
</g>
<rect x="160.6" y="246.1" width="91.80000000000001" height="74.50000000000003" fill="none" stroke="#c8c8c8" stroke-width="0.9"/>
<text x="160.60" y="328.26" font-size="7.75" text-anchor="middle" fill="#1e1e1e" stroke="#1e1e1e" stroke-width="0.22" font-weight="normal" textLength="4.33" lengthAdjust="spacingAndGlyphs">0</text>
<text x="183.55" y="328.26" font-size="7.75" text-anchor="middle" fill="#1e1e1e" stroke="#1e1e1e" stroke-width="0.22" font-weight="normal" textLength="12.98" lengthAdjust="spacingAndGlyphs">250</text>
<text x="206.50" y="328.26" font-size="7.75" text-anchor="middle" fill="#1e1e1e" stroke="#1e1e1e" stroke-width="0.22" font-weight="normal" textLength="12.98" lengthAdjust="spacingAndGlyphs">500</text>
<text x="229.45" y="328.26" font-size="7.75" text-anchor="middle" fill="#1e1e1e" stroke="#1e1e1e" stroke-width="0.22" font-weight="normal" textLength="12.98" lengthAdjust="spacingAndGlyphs">750</text>
<text x="252.40" y="328.26" font-size="7.75" text-anchor="middle" fill="#1e1e1e" stroke="#1e1e1e" stroke-width="0.22" font-weight="normal" textLength="17.31" lengthAdjust="spacingAndGlyphs">1000</text>
<text x="159.00" y="323.05" font-size="7.75" text-anchor="end" fill="#1e1e1e" stroke="#1e1e1e" stroke-width="0.22" font-weight="normal" textLength="15.14" lengthAdjust="spacingAndGlyphs">0.00</text>
<text x="159.00" y="308.15" font-size="7.75" text-anchor="end" fill="#1e1e1e" stroke="#1e1e1e" stroke-width="0.22" font-weight="normal" textLength="15.14" lengthAdjust="spacingAndGlyphs">0.05</text>
<text x="159.00" y="293.25" font-size="7.75" text-anchor="end" fill="#1e1e1e" stroke="#1e1e1e" stroke-width="0.22" font-weight="normal" textLength="15.14" lengthAdjust="spacingAndGlyphs">0.10</text>
<text x="159.00" y="278.35" font-size="7.75" text-anchor="end" fill="#1e1e1e" stroke="#1e1e1e" stroke-width="0.22" font-weight="normal" textLength="15.14" lengthAdjust="spacingAndGlyphs">0.15</text>
<text x="159.00" y="263.45" font-size="7.75" text-anchor="end" fill="#1e1e1e" stroke="#1e1e1e" stroke-width="0.22" font-weight="normal" textLength="15.14" lengthAdjust="spacingAndGlyphs">0.20</text>
<text x="159.00" y="248.55" font-size="7.75" text-anchor="end" fill="#1e1e1e" stroke="#1e1e1e" stroke-width="0.22" font-weight="normal" textLength="15.14" lengthAdjust="spacingAndGlyphs">0.25</text>
</g>
<g>
<clipPath id="cD"><rect x="310.5" y="213.4" width="231.5" height="170.4"/></clipPath>
<g clip-path="url(#cD)" fill="none" stroke-linejoin="round" stroke-linecap="butt">
<path d="M320.3,219.6 320.7,223.1 321.8,227.5 323.1,232.0 324.6,236.2 326.1,239.8 327.9,243.2 330.1,246.7 332.7,250.5 337.4,256.7 345.2,266.4 433.3,375.5 434.5,371.7 435.5,369.6 436.9,367.4 438.7,365.5 441.1,364.0 443.9,362.7 447.0,361.7 450.7,360.9 454.2,360.5 458.2,360.1 469.2,359.7 485.7,359.6 531.4,359.6" stroke="#1f77b4" stroke-width="1.03"/>
<path d="M320.3,221.0 321.2,225.6 322.1,229.8 323.2,233.6 324.4,236.9 325.8,239.9 327.3,242.9 329.2,245.9 331.6,249.2 335.5,254.5 342.3,263.0 433.3,375.5 434.5,371.4 435.5,369.1 436.6,367.0 438.3,365.1 440.4,363.5 442.7,362.3 445.5,361.3 448.8,360.6 451.9,360.2 455.4,360.0 465.2,359.7 531.4,359.6" stroke="#ff7f0e" stroke-width="1.03"/>
<path d="M320.3,221.0 321.3,225.7 322.4,229.9 323.6,233.8 325.1,237.4 326.6,240.8 328.4,244.0 330.6,247.4 333.2,251.2 337.9,257.3 345.6,267.0 433.3,375.5 434.5,371.7 435.5,369.6 436.9,367.4 438.7,365.5 441.1,364.0 443.9,362.7 447.0,361.7 450.7,360.9 454.2,360.5 458.2,360.1 469.2,359.7 485.7,359.6 531.4,359.6" stroke="#4caa4c" stroke-width="1.24"/>
</g>
<rect x="310.5" y="213.4" width="231.5" height="170.4" fill="none" stroke="#6a6a6a" stroke-width="1.35"/>
<line x1="320.30" y1="383.8" x2="320.30" y2="385.8" stroke="#6a6a6a" stroke-width="0.8"/>
<text x="320.30" y="393.80" font-size="8.80" text-anchor="middle" fill="#1e1e1e" stroke="#1e1e1e" stroke-width="0.22" font-weight="normal" textLength="4.20" lengthAdjust="spacingAndGlyphs">0</text>
<line x1="347.30" y1="383.8" x2="347.30" y2="385.8" stroke="#6a6a6a" stroke-width="0.8"/>
<text x="347.30" y="393.80" font-size="8.80" text-anchor="middle" fill="#1e1e1e" stroke="#1e1e1e" stroke-width="0.22" font-weight="normal" textLength="16.80" lengthAdjust="spacingAndGlyphs">1000</text>
<line x1="374.30" y1="383.8" x2="374.30" y2="385.8" stroke="#6a6a6a" stroke-width="0.8"/>
<text x="374.30" y="393.80" font-size="8.80" text-anchor="middle" fill="#1e1e1e" stroke="#1e1e1e" stroke-width="0.22" font-weight="normal" textLength="16.80" lengthAdjust="spacingAndGlyphs">2000</text>
<line x1="401.30" y1="383.8" x2="401.30" y2="385.8" stroke="#6a6a6a" stroke-width="0.8"/>
<text x="401.30" y="393.80" font-size="8.80" text-anchor="middle" fill="#1e1e1e" stroke="#1e1e1e" stroke-width="0.22" font-weight="normal" textLength="16.80" lengthAdjust="spacingAndGlyphs">3000</text>
<line x1="428.30" y1="383.8" x2="428.30" y2="385.8" stroke="#6a6a6a" stroke-width="0.8"/>
<text x="428.30" y="393.80" font-size="8.80" text-anchor="middle" fill="#1e1e1e" stroke="#1e1e1e" stroke-width="0.22" font-weight="normal" textLength="16.80" lengthAdjust="spacingAndGlyphs">4000</text>
<line x1="455.30" y1="383.8" x2="455.30" y2="385.8" stroke="#6a6a6a" stroke-width="0.8"/>
<text x="455.30" y="393.80" font-size="8.80" text-anchor="middle" fill="#1e1e1e" stroke="#1e1e1e" stroke-width="0.22" font-weight="normal" textLength="16.80" lengthAdjust="spacingAndGlyphs">5000</text>
<line x1="482.30" y1="383.8" x2="482.30" y2="385.8" stroke="#6a6a6a" stroke-width="0.8"/>
<text x="482.30" y="393.80" font-size="8.80" text-anchor="middle" fill="#1e1e1e" stroke="#1e1e1e" stroke-width="0.22" font-weight="normal" textLength="16.80" lengthAdjust="spacingAndGlyphs">6000</text>
<line x1="509.30" y1="383.8" x2="509.30" y2="385.8" stroke="#6a6a6a" stroke-width="0.8"/>
<text x="509.30" y="393.80" font-size="8.80" text-anchor="middle" fill="#1e1e1e" stroke="#1e1e1e" stroke-width="0.22" font-weight="normal" textLength="16.80" lengthAdjust="spacingAndGlyphs">7000</text>
<line x1="536.30" y1="383.8" x2="536.30" y2="385.8" stroke="#6a6a6a" stroke-width="0.8"/>
<text x="536.30" y="393.80" font-size="8.80" text-anchor="middle" fill="#1e1e1e" stroke="#1e1e1e" stroke-width="0.22" font-weight="normal" textLength="16.80" lengthAdjust="spacingAndGlyphs">8000</text>
<line x1="308.5" y1="374.20" x2="310.5" y2="374.20" stroke="#6a6a6a" stroke-width="0.8"/>
<text x="305.50" y="377.10" font-size="8.80" text-anchor="end" fill="#1e1e1e" stroke="#1e1e1e" stroke-width="0.22" font-weight="normal" textLength="10.50" lengthAdjust="spacingAndGlyphs">0.5</text>
<line x1="308.5" y1="342.80" x2="310.5" y2="342.80" stroke="#6a6a6a" stroke-width="0.8"/>
<text x="305.50" y="345.70" font-size="8.80" text-anchor="end" fill="#1e1e1e" stroke="#1e1e1e" stroke-width="0.22" font-weight="normal" textLength="10.50" lengthAdjust="spacingAndGlyphs">0.6</text>
<line x1="308.5" y1="311.40" x2="310.5" y2="311.40" stroke="#6a6a6a" stroke-width="0.8"/>
<text x="305.50" y="314.30" font-size="8.80" text-anchor="end" fill="#1e1e1e" stroke="#1e1e1e" stroke-width="0.22" font-weight="normal" textLength="10.50" lengthAdjust="spacingAndGlyphs">0.7</text>
<line x1="308.5" y1="280.00" x2="310.5" y2="280.00" stroke="#6a6a6a" stroke-width="0.8"/>
<text x="305.50" y="282.90" font-size="8.80" text-anchor="end" fill="#1e1e1e" stroke="#1e1e1e" stroke-width="0.22" font-weight="normal" textLength="10.50" lengthAdjust="spacingAndGlyphs">0.8</text>
<line x1="308.5" y1="248.60" x2="310.5" y2="248.60" stroke="#6a6a6a" stroke-width="0.8"/>
<text x="305.50" y="251.50" font-size="8.80" text-anchor="end" fill="#1e1e1e" stroke="#1e1e1e" stroke-width="0.22" font-weight="normal" textLength="10.50" lengthAdjust="spacingAndGlyphs">0.9</text>
<line x1="308.5" y1="217.20" x2="310.5" y2="217.20" stroke="#6a6a6a" stroke-width="0.8"/>
<text x="305.50" y="220.10" font-size="8.80" text-anchor="end" fill="#1e1e1e" stroke="#1e1e1e" stroke-width="0.22" font-weight="normal" textLength="10.50" lengthAdjust="spacingAndGlyphs">1.0</text>
<text x="426.25" y="404.50" font-size="8.60" text-anchor="middle" fill="#1e1e1e" stroke="#1e1e1e" stroke-width="0.22" font-weight="normal" textLength="36.19" lengthAdjust="spacingAndGlyphs">Time [s]</text>
<text x="289.90" y="298.60" font-size="8.60" text-anchor="middle" fill="#1e1e1e" stroke="#1e1e1e" stroke-width="0.22" font-weight="normal" textLength="108.25" lengthAdjust="spacingAndGlyphs" transform="rotate(-90 289.90 298.60)">Negative Electrode SOC</text>
<text x="279.1" y="221.9" font-size="10.3" font-weight="bold" fill="#111">D</text>
<rect x="419.5" y="216.4" width="118.5" height="35.69999999999999" rx="1.5" fill="#fff" fill-opacity="0.85" stroke="#d9d9d9" stroke-width="0.8"/>
<line x1="422.1" y1="222.60" x2="437.4" y2="222.60" stroke="#3a86c0" stroke-width="1.15"/>
<text x="442.50" y="225.30" font-size="8.50" text-anchor="start" fill="#1e1e1e" stroke="#1e1e1e" stroke-width="0.22" font-weight="normal" textLength="84.27" lengthAdjust="spacingAndGlyphs">Crank-Nicolson Scheme</text>
<line x1="422.1" y1="234.00" x2="437.4" y2="234.00" stroke="#ff9233" stroke-width="1.15"/>
<text x="442.50" y="236.70" font-size="8.50" text-anchor="start" fill="#1e1e1e" stroke="#1e1e1e" stroke-width="0.22" font-weight="normal" textLength="87.54" lengthAdjust="spacingAndGlyphs">Eigen Expansion Method</text>
<line x1="422.1" y1="245.40" x2="437.4" y2="245.40" stroke="#4caa4c" stroke-width="1.15"/>
<text x="442.50" y="248.10" font-size="8.50" text-anchor="start" fill="#1e1e1e" stroke="#1e1e1e" stroke-width="0.22" font-weight="normal" textLength="92.66" lengthAdjust="spacingAndGlyphs">Polynomial Approximation</text>
<rect x="435.4" y="267.2" width="92.30000000000007" height="75.60000000000002" fill="#fff" stroke="none"/>
<clipPath id="iD"><rect x="435.4" y="267.2" width="92.30000000000007" height="75.60000000000002"/></clipPath>
<g clip-path="url(#iD)" fill="none" stroke-linejoin="round">
<path d="M435.4,270.8 437.8,274.1 440.4,277.1 443.2,279.9 446.1,282.6 449.3,285.1 452.8,287.4 456.6,289.7 460.9,292.0 465.2,294.0 470.2,296.2 482.2,300.9 498.8,307.0 527.7,317.2" stroke="#1f77b4" stroke-width="0.85"/>
<path d="M435.4,270.8 437.5,274.1 439.8,277.2 442.3,280.0 444.9,282.6 447.9,285.0 451.0,287.2 454.5,289.3 458.5,291.5 462.5,293.4 467.1,295.4 478.5,299.8 494.8,305.7 527.7,317.2" stroke="#ff7f0e" stroke-width="0.85"/>
<path d="M435.4,270.8 437.8,274.1 440.4,277.1 443.2,279.9 446.1,282.6 449.3,285.1 452.8,287.4 456.6,289.7 460.9,292.0 465.2,294.0 470.2,296.2 482.2,300.9 498.8,307.0 527.7,317.2" stroke="#4caa4c" stroke-width="1.03"/>
</g>
<rect x="435.4" y="267.2" width="92.30000000000007" height="75.60000000000002" fill="none" stroke="#c8c8c8" stroke-width="0.9"/>
<text x="435.40" y="350.46" font-size="7.75" text-anchor="middle" fill="#1e1e1e" stroke="#1e1e1e" stroke-width="0.22" font-weight="normal" textLength="4.33" lengthAdjust="spacingAndGlyphs">0</text>
<text x="458.48" y="350.46" font-size="7.75" text-anchor="middle" fill="#1e1e1e" stroke="#1e1e1e" stroke-width="0.22" font-weight="normal" textLength="12.98" lengthAdjust="spacingAndGlyphs">250</text>
<text x="481.55" y="350.46" font-size="7.75" text-anchor="middle" fill="#1e1e1e" stroke="#1e1e1e" stroke-width="0.22" font-weight="normal" textLength="12.98" lengthAdjust="spacingAndGlyphs">500</text>
<text x="504.62" y="350.46" font-size="7.75" text-anchor="middle" fill="#1e1e1e" stroke="#1e1e1e" stroke-width="0.22" font-weight="normal" textLength="12.98" lengthAdjust="spacingAndGlyphs">750</text>
<text x="527.70" y="350.46" font-size="7.75" text-anchor="middle" fill="#1e1e1e" stroke="#1e1e1e" stroke-width="0.22" font-weight="normal" textLength="17.31" lengthAdjust="spacingAndGlyphs">1000</text>
<text x="433.80" y="345.25" font-size="7.75" text-anchor="end" fill="#1e1e1e" stroke="#1e1e1e" stroke-width="0.22" font-weight="normal" textLength="15.14" lengthAdjust="spacingAndGlyphs">0.75</text>
<text x="433.80" y="330.13" font-size="7.75" text-anchor="end" fill="#1e1e1e" stroke="#1e1e1e" stroke-width="0.22" font-weight="normal" textLength="15.14" lengthAdjust="spacingAndGlyphs">0.80</text>
<text x="433.80" y="315.01" font-size="7.75" text-anchor="end" fill="#1e1e1e" stroke="#1e1e1e" stroke-width="0.22" font-weight="normal" textLength="15.14" lengthAdjust="spacingAndGlyphs">0.85</text>
<text x="433.80" y="299.89" font-size="7.75" text-anchor="end" fill="#1e1e1e" stroke="#1e1e1e" stroke-width="0.22" font-weight="normal" textLength="15.14" lengthAdjust="spacingAndGlyphs">0.90</text>
<text x="433.80" y="284.77" font-size="7.75" text-anchor="end" fill="#1e1e1e" stroke="#1e1e1e" stroke-width="0.22" font-weight="normal" textLength="15.14" lengthAdjust="spacingAndGlyphs">0.95</text>
<text x="433.80" y="269.65" font-size="7.75" text-anchor="end" fill="#1e1e1e" stroke="#1e1e1e" stroke-width="0.22" font-weight="normal" textLength="15.14" lengthAdjust="spacingAndGlyphs">1.00</text>
</g>
<g>
<clipPath id="cE"><rect x="36.6" y="419.3" width="235.1" height="170.09999999999997"/></clipPath>
<g clip-path="url(#cE)" fill="none" stroke-linejoin="round" stroke-linecap="butt">
<path d="M47.0,427.0 48.7,427.0 50.1,431.9 51.0,434.1 52.0,436.1 52.8,434.6 53.6,433.4 55.1,437.1 57.0,440.5 57.8,438.8 58.6,437.4 60.1,441.0 61.9,444.3 62.7,442.5 63.6,441.1 65.1,444.6 66.9,447.8 67.7,446.0 68.6,444.6 70.0,448.1 71.9,451.3 72.7,449.5 73.6,448.1 75.0,451.6 76.9,454.8 77.7,452.9 78.5,451.5 80.0,455.0 81.9,458.2 82.7,456.4 83.5,454.9 85.0,458.4 86.8,461.7 87.6,459.8 88.5,458.3 90.0,461.9 91.8,465.1 92.6,463.2 93.5,461.8 94.9,465.3 96.8,468.5 97.6,466.6 98.5,465.2 99.9,468.7 101.8,471.9 102.6,470.0 103.4,468.6 104.9,472.1 106.8,475.3 107.6,473.4 108.4,471.9 109.9,475.5 111.7,478.8 112.5,476.8 113.4,475.3 114.9,478.9 116.7,482.2 117.5,480.2 118.4,478.7 119.8,482.3 121.7,485.6 122.5,483.6 123.4,482.1 124.8,485.7 126.7,489.0 127.5,487.0 128.3,485.5 129.8,489.1 131.7,492.4 132.5,490.4 133.3,488.9 134.8,492.5 136.6,495.8 137.4,493.8 138.3,492.3 139.8,495.9 141.6,499.2 142.4,497.2 143.3,495.7 144.7,499.3 146.6,502.6 147.4,500.6 148.3,499.1 149.7,502.7 151.6,506.1 152.4,504.1 153.2,502.5 154.7,506.1 156.6,509.5 157.4,507.5 158.2,505.9 159.7,509.6 161.5,512.9 162.3,510.9 163.2,509.3 164.7,513.0 166.5,516.3 167.3,514.3 168.2,512.7 169.6,516.4 171.5,519.7 172.3,517.7 173.2,516.1 174.6,519.8 176.5,523.1 177.3,521.1 178.1,519.5 179.6,523.2 181.5,526.5 182.3,524.5 183.1,522.9 184.6,526.6 186.4,529.9 187.2,527.9 188.1,526.3 189.6,530.0 191.4,533.3 192.2,531.3 193.1,529.7 194.5,533.4 196.4,536.8 197.2,534.7 198.1,533.1 199.5,536.8 201.4,540.2 202.2,538.1 203.0,536.4 204.5,540.2 206.4,543.6 207.2,541.5 208.0,539.8 209.5,543.6 211.3,547.0 212.1,544.9 213.0,543.2 214.5,547.0 216.3,550.4 217.1,548.3 218.0,546.6 219.4,550.4 221.3,553.8 222.1,551.7 223.0,550.0 224.4,553.8 226.3,557.2 227.1,555.1 227.9,553.4 229.4,557.2 231.3,560.6 232.1,558.5 232.9,556.8 234.4,560.6 236.2,564.1 237.0,561.9 237.9,560.2 239.4,564.0 241.2,567.5 242.0,565.3 242.9,563.6 244.3,567.4 246.2,570.9 247.0,568.7 247.9,567.0 249.3,570.8 251.2,574.3 252.0,572.1 252.8,570.4 254.3,574.3 256.2,577.7 257.0,575.5 257.8,573.8 259.3,577.7 261.1,581.1" stroke="#1f77b4" stroke-width="1.03"/>
<path d="M47.0,427.0 48.7,427.0 49.3,429.9 50.1,432.3 50.9,434.5 52.0,436.7 52.8,434.6 53.6,433.2 55.0,437.2 55.9,439.0 57.0,440.8 57.8,438.6 58.6,437.1 60.0,441.0 60.9,442.7 61.9,444.5 62.7,442.3 63.6,440.7 65.0,444.6 65.9,446.3 66.9,448.1 67.7,445.8 68.6,444.2 70.0,448.1 70.8,449.8 71.9,451.6 72.7,449.3 73.6,447.7 75.0,451.6 75.8,453.3 76.9,455.0 77.7,452.7 78.5,451.1 79.9,455.0 80.8,456.7 81.9,458.5 82.7,456.2 83.5,454.5 84.9,458.4 85.8,460.2 86.8,461.9 87.6,459.6 88.5,457.9 89.9,461.9 90.8,463.6 91.8,465.3 92.6,463.0 93.5,461.3 94.9,465.3 95.7,467.0 96.8,468.8 97.6,466.4 98.5,464.7 99.9,468.7 100.7,470.4 101.8,472.2 102.6,469.8 103.4,468.1 104.8,472.1 105.7,473.8 106.8,475.6 107.6,473.2 108.4,471.5 109.8,475.5 110.7,477.3 111.7,479.0 112.5,476.6 113.4,474.9 114.8,478.9 115.7,480.7 116.7,482.4 117.5,480.0 118.4,478.3 119.8,482.3 120.6,484.1 121.7,485.8 122.5,483.4 123.4,481.7 124.8,485.7 125.6,487.5 126.7,489.3 127.5,486.8 128.3,485.1 129.7,489.1 130.6,490.9 131.7,492.7 132.5,490.2 133.3,488.5 134.7,492.5 135.6,494.3 136.6,496.1 137.4,493.6 138.3,491.9 139.7,495.9 140.6,497.7 141.6,499.5 142.4,497.0 143.3,495.3 144.7,499.3 145.5,501.1 146.6,502.9 147.4,500.4 148.3,498.7 149.7,502.8 150.5,504.5 151.6,506.3 152.4,503.8 153.2,502.0 154.6,506.2 155.5,508.0 156.6,509.7 157.4,507.2 158.2,505.4 159.6,509.6 160.5,511.4 161.5,513.1 162.3,510.6 163.2,508.8 164.6,513.0 165.5,514.8 166.5,516.6 167.3,514.0 168.2,512.2 169.6,516.4 170.4,518.2 171.5,520.0 172.3,517.4 173.2,515.6 174.6,519.8 175.4,521.6 176.5,523.4 177.3,520.8 178.1,519.0 179.5,523.2 180.4,525.0 181.5,526.8 182.3,524.2 183.1,522.4 184.5,526.6 185.4,528.4 186.4,530.2 187.2,527.6 188.1,525.8 189.5,530.0 190.4,531.8 191.4,533.6 192.2,531.0 193.1,529.2 194.5,533.4 195.3,535.2 196.4,537.0 197.2,534.4 198.1,532.6 199.5,536.8 200.3,538.6 201.4,540.4 202.2,537.8 203.0,536.0 203.7,538.2 204.4,540.2 205.3,542.1 206.4,543.9 207.2,541.2 208.0,539.4 208.7,541.6 209.4,543.6 210.3,545.5 211.3,547.3 212.1,544.6 213.0,542.8 213.7,545.0 214.4,547.0 215.3,548.9 216.3,550.7 217.1,548.0 218.0,546.1 218.6,548.4 219.4,550.4 220.2,552.3 221.3,554.1 222.1,551.4 223.0,549.5 223.6,551.8 224.4,553.8 225.2,555.7 226.3,557.5 227.1,554.8 227.9,552.9 228.6,555.2 229.3,557.2 230.2,559.1 231.3,560.9 232.1,558.2 232.9,556.3 233.6,558.6 234.3,560.6 235.2,562.5 236.2,564.3 237.0,561.6 237.9,559.7 238.6,562.0 239.3,564.1 240.2,565.9 241.2,567.8 242.0,565.0 242.9,563.1 243.5,565.4 244.3,567.5 245.1,569.3 246.2,571.2 247.0,568.4 247.9,566.5 248.5,568.8 249.3,570.9 250.1,572.7 251.2,574.6 252.0,571.8 252.8,569.9 253.5,572.2 254.2,574.3 255.1,576.2 256.2,578.0 257.0,575.2 257.8,573.3 258.5,575.6 259.2,577.7 260.1,579.6 261.1,581.4" stroke="#ff7f0e" stroke-width="1.03"/>
<path d="M47.0,427.0 48.7,427.0 50.1,431.9 51.0,434.1 52.0,436.1 52.8,434.6 53.6,433.4 55.1,437.1 57.0,440.5 57.8,438.8 58.6,437.4 60.1,441.0 61.9,444.3 62.7,442.5 63.6,441.1 65.1,444.6 66.9,447.8 67.7,446.0 68.6,444.6 70.0,448.1 71.9,451.3 72.7,449.5 73.6,448.1 75.0,451.6 76.9,454.8 77.7,452.9 78.5,451.5 80.0,455.0 81.9,458.2 82.7,456.4 83.5,454.9 85.0,458.4 86.8,461.7 87.6,459.8 88.5,458.3 90.0,461.9 91.8,465.1 92.6,463.2 93.5,461.8 94.9,465.3 96.8,468.5 97.6,466.6 98.5,465.2 99.9,468.7 101.8,471.9 102.6,470.0 103.4,468.6 104.9,472.1 106.8,475.3 107.6,473.4 108.4,471.9 109.9,475.5 111.7,478.8 112.5,476.8 113.4,475.3 114.9,478.9 116.7,482.2 117.5,480.2 118.4,478.7 119.8,482.3 121.7,485.6 122.5,483.6 123.4,482.1 124.8,485.7 126.7,489.0 127.5,487.0 128.3,485.5 129.8,489.1 131.7,492.4 132.5,490.4 133.3,488.9 134.8,492.5 136.6,495.8 137.4,493.8 138.3,492.3 139.8,495.9 141.6,499.2 142.4,497.2 143.3,495.7 144.7,499.3 146.6,502.6 147.4,500.6 148.3,499.1 149.7,502.7 151.6,506.1 152.4,504.1 153.2,502.5 154.7,506.1 156.6,509.5 157.4,507.5 158.2,505.9 159.7,509.6 161.5,512.9 162.3,510.9 163.2,509.3 164.7,513.0 166.5,516.3 167.3,514.3 168.2,512.7 169.6,516.4 171.5,519.7 172.3,517.7 173.2,516.1 174.6,519.8 176.5,523.1 177.3,521.1 178.1,519.5 179.6,523.2 181.5,526.5 182.3,524.5 183.1,522.9 184.6,526.6 186.4,529.9 187.2,527.9 188.1,526.3 189.6,530.0 191.4,533.3 192.2,531.3 193.1,529.7 194.5,533.4 196.4,536.8 197.2,534.7 198.1,533.1 199.5,536.8 201.4,540.2 202.2,538.1 203.0,536.4 204.5,540.2 206.4,543.6 207.2,541.5 208.0,539.8 209.5,543.6 211.3,547.0 212.1,544.9 213.0,543.2 214.5,547.0 216.3,550.4 217.1,548.3 218.0,546.6 219.4,550.4 221.3,553.8 222.1,551.7 223.0,550.0 224.4,553.8 226.3,557.2 227.1,555.1 227.9,553.4 229.4,557.2 231.3,560.6 232.1,558.5 232.9,556.8 234.4,560.6 236.2,564.1 237.0,561.9 237.9,560.2 239.4,564.0 241.2,567.5 242.0,565.3 242.9,563.6 244.3,567.4 246.2,570.9 247.0,568.7 247.9,567.0 249.3,570.8 251.2,574.3 252.0,572.1 252.8,570.4 254.3,574.3 256.2,577.7 257.0,575.5 257.8,573.8 259.3,577.7 261.1,581.1" stroke="#4caa4c" stroke-width="1.24"/>
</g>
<rect x="36.6" y="419.3" width="235.1" height="170.09999999999997" fill="none" stroke="#6a6a6a" stroke-width="1.35"/>
<line x1="47.00" y1="589.4" x2="47.00" y2="591.4" stroke="#6a6a6a" stroke-width="0.8"/>
<text x="47.00" y="599.40" font-size="8.80" text-anchor="middle" fill="#1e1e1e" stroke="#1e1e1e" stroke-width="0.22" font-weight="normal" textLength="4.20" lengthAdjust="spacingAndGlyphs">0</text>
<line x1="80.20" y1="589.4" x2="80.20" y2="591.4" stroke="#6a6a6a" stroke-width="0.8"/>
<text x="80.20" y="599.40" font-size="8.80" text-anchor="middle" fill="#1e1e1e" stroke="#1e1e1e" stroke-width="0.22" font-weight="normal" textLength="16.80" lengthAdjust="spacingAndGlyphs">1000</text>
<line x1="113.40" y1="589.4" x2="113.40" y2="591.4" stroke="#6a6a6a" stroke-width="0.8"/>
<text x="113.40" y="599.40" font-size="8.80" text-anchor="middle" fill="#1e1e1e" stroke="#1e1e1e" stroke-width="0.22" font-weight="normal" textLength="16.80" lengthAdjust="spacingAndGlyphs">2000</text>
<line x1="146.60" y1="589.4" x2="146.60" y2="591.4" stroke="#6a6a6a" stroke-width="0.8"/>
<text x="146.60" y="599.40" font-size="8.80" text-anchor="middle" fill="#1e1e1e" stroke="#1e1e1e" stroke-width="0.22" font-weight="normal" textLength="16.80" lengthAdjust="spacingAndGlyphs">3000</text>
<line x1="179.80" y1="589.4" x2="179.80" y2="591.4" stroke="#6a6a6a" stroke-width="0.8"/>
<text x="179.80" y="599.40" font-size="8.80" text-anchor="middle" fill="#1e1e1e" stroke="#1e1e1e" stroke-width="0.22" font-weight="normal" textLength="16.80" lengthAdjust="spacingAndGlyphs">4000</text>
<line x1="213.00" y1="589.4" x2="213.00" y2="591.4" stroke="#6a6a6a" stroke-width="0.8"/>
<text x="213.00" y="599.40" font-size="8.80" text-anchor="middle" fill="#1e1e1e" stroke="#1e1e1e" stroke-width="0.22" font-weight="normal" textLength="16.80" lengthAdjust="spacingAndGlyphs">5000</text>
<line x1="246.20" y1="589.4" x2="246.20" y2="591.4" stroke="#6a6a6a" stroke-width="0.8"/>
<text x="246.20" y="599.40" font-size="8.80" text-anchor="middle" fill="#1e1e1e" stroke="#1e1e1e" stroke-width="0.22" font-weight="normal" textLength="16.80" lengthAdjust="spacingAndGlyphs">6000</text>
<line x1="34.6" y1="585.30" x2="36.6" y2="585.30" stroke="#6a6a6a" stroke-width="0.8"/>
<text x="31.60" y="588.20" font-size="8.80" text-anchor="end" fill="#1e1e1e" stroke="#1e1e1e" stroke-width="0.22" font-weight="normal" textLength="10.50" lengthAdjust="spacingAndGlyphs">0.0</text>
<line x1="34.6" y1="564.36" x2="36.6" y2="564.36" stroke="#6a6a6a" stroke-width="0.8"/>
<text x="31.60" y="567.26" font-size="8.80" text-anchor="end" fill="#1e1e1e" stroke="#1e1e1e" stroke-width="0.22" font-weight="normal" textLength="10.50" lengthAdjust="spacingAndGlyphs">0.1</text>
<line x1="34.6" y1="543.42" x2="36.6" y2="543.42" stroke="#6a6a6a" stroke-width="0.8"/>
<text x="31.60" y="546.32" font-size="8.80" text-anchor="end" fill="#1e1e1e" stroke="#1e1e1e" stroke-width="0.22" font-weight="normal" textLength="10.50" lengthAdjust="spacingAndGlyphs">0.2</text>
<line x1="34.6" y1="522.48" x2="36.6" y2="522.48" stroke="#6a6a6a" stroke-width="0.8"/>
<text x="31.60" y="525.38" font-size="8.80" text-anchor="end" fill="#1e1e1e" stroke="#1e1e1e" stroke-width="0.22" font-weight="normal" textLength="10.50" lengthAdjust="spacingAndGlyphs">0.3</text>
<line x1="34.6" y1="501.54" x2="36.6" y2="501.54" stroke="#6a6a6a" stroke-width="0.8"/>
<text x="31.60" y="504.44" font-size="8.80" text-anchor="end" fill="#1e1e1e" stroke="#1e1e1e" stroke-width="0.22" font-weight="normal" textLength="10.50" lengthAdjust="spacingAndGlyphs">0.4</text>
<line x1="34.6" y1="480.60" x2="36.6" y2="480.60" stroke="#6a6a6a" stroke-width="0.8"/>
<text x="31.60" y="483.50" font-size="8.80" text-anchor="end" fill="#1e1e1e" stroke="#1e1e1e" stroke-width="0.22" font-weight="normal" textLength="10.50" lengthAdjust="spacingAndGlyphs">0.5</text>
<line x1="34.6" y1="459.66" x2="36.6" y2="459.66" stroke="#6a6a6a" stroke-width="0.8"/>
<text x="31.60" y="462.56" font-size="8.80" text-anchor="end" fill="#1e1e1e" stroke="#1e1e1e" stroke-width="0.22" font-weight="normal" textLength="10.50" lengthAdjust="spacingAndGlyphs">0.6</text>
<line x1="34.6" y1="438.72" x2="36.6" y2="438.72" stroke="#6a6a6a" stroke-width="0.8"/>
<text x="31.60" y="441.62" font-size="8.80" text-anchor="end" fill="#1e1e1e" stroke="#1e1e1e" stroke-width="0.22" font-weight="normal" textLength="10.50" lengthAdjust="spacingAndGlyphs">0.7</text>
<text x="154.15" y="610.10" font-size="8.60" text-anchor="middle" fill="#1e1e1e" stroke="#1e1e1e" stroke-width="0.22" font-weight="normal" textLength="36.19" lengthAdjust="spacingAndGlyphs">Time [s]</text>
<text x="16.00" y="504.35" font-size="8.60" text-anchor="middle" fill="#1e1e1e" stroke="#1e1e1e" stroke-width="0.22" font-weight="normal" textLength="108.25" lengthAdjust="spacingAndGlyphs" transform="rotate(-90 16.00 504.35)">Negative Electrode SOC</text>
<text x="4.1" y="416.6" font-size="10.3" font-weight="bold" fill="#111">E</text>
<rect x="149.5" y="422.7" width="118.5" height="35.5" rx="1.5" fill="#fff" fill-opacity="0.85" stroke="#d9d9d9" stroke-width="0.8"/>
<line x1="152.1" y1="428.90" x2="167.4" y2="428.90" stroke="#3a86c0" stroke-width="1.15"/>
<text x="172.50" y="431.60" font-size="8.50" text-anchor="start" fill="#1e1e1e" stroke="#1e1e1e" stroke-width="0.22" font-weight="normal" textLength="84.27" lengthAdjust="spacingAndGlyphs">Crank-Nicolson Scheme</text>
<line x1="152.1" y1="440.30" x2="167.4" y2="440.30" stroke="#ff9233" stroke-width="1.15"/>
<text x="172.50" y="443.00" font-size="8.50" text-anchor="start" fill="#1e1e1e" stroke="#1e1e1e" stroke-width="0.22" font-weight="normal" textLength="87.54" lengthAdjust="spacingAndGlyphs">Eigen Expansion Method</text>
<line x1="152.1" y1="451.70" x2="167.4" y2="451.70" stroke="#4caa4c" stroke-width="1.15"/>
<text x="172.50" y="454.40" font-size="8.50" text-anchor="start" fill="#1e1e1e" stroke="#1e1e1e" stroke-width="0.22" font-weight="normal" textLength="92.66" lengthAdjust="spacingAndGlyphs">Polynomial Approximation</text>
<rect x="53.4" y="514.0" width="76.79999999999998" height="62.0" fill="#fff" stroke="none"/>
<clipPath id="iE"><rect x="53.4" y="514.0" width="76.79999999999998" height="62.0"/></clipPath>
<g clip-path="url(#iE)" fill="none" stroke-linejoin="round">
<path d="M53.4,533.4 57.2,533.4 58.9,536.0 60.6,538.3 62.6,540.4 64.9,542.5 66.8,540.9 68.8,539.8 70.4,541.7 72.1,543.4 74.1,545.1 76.4,546.8 78.3,545.1 80.3,543.7 81.9,545.6 83.7,547.2 85.7,548.9 88.0,550.5 89.8,548.7 91.8,547.3 93.4,549.1 95.2,550.8 97.2,552.4 99.5,554.0 101.3,552.2 103.3,550.8 104.9,552.6 106.7,554.3 108.7,555.9 111.0,557.4 112.8,555.6 114.8,554.2 116.5,556.0 118.2,557.7 120.2,559.3 122.5,560.9 124.4,559.0 126.4,557.6 128.2,559.7 130.2,561.5" stroke="#1f77b4" stroke-width="1.03"/>
<path d="M53.4,533.4 57.2,533.4 58.8,536.3 60.5,538.8 62.5,540.9 64.9,543.0 66.7,541.0 68.8,539.5 70.3,541.7 72.1,543.6 74.1,545.4 76.4,547.1 78.2,545.0 80.3,543.4 81.8,545.4 83.6,547.3 85.6,549.0 88.0,550.7 89.7,548.6 91.8,546.9 93.3,549.0 95.1,550.9 97.1,552.6 99.5,554.2 101.2,552.1 103.3,550.4 104.9,552.5 106.6,554.3 108.6,556.0 111.0,557.7 112.8,555.5 114.8,553.8 116.4,555.9 118.1,557.8 120.1,559.5 122.5,561.1 124.3,558.9 126.4,557.2 128.1,559.5 130.2,561.6" stroke="#ff7f0e" stroke-width="1.03"/>
<path d="M53.4,533.4 57.2,533.4 58.9,536.0 60.6,538.3 62.6,540.4 64.9,542.5 66.8,540.9 68.8,539.8 70.4,541.7 72.1,543.4 74.1,545.1 76.4,546.8 78.3,545.1 80.3,543.7 81.9,545.6 83.7,547.2 85.7,548.9 88.0,550.5 89.8,548.7 91.8,547.3 93.4,549.1 95.2,550.8 97.2,552.4 99.5,554.0 101.3,552.2 103.3,550.8 104.9,552.6 106.7,554.3 108.7,555.9 111.0,557.4 112.8,555.6 114.8,554.2 116.5,556.0 118.2,557.7 120.2,559.3 122.5,560.9 124.4,559.0 126.4,557.6 128.2,559.7 130.2,561.5" stroke="#4caa4c" stroke-width="1.24"/>
</g>
<rect x="53.4" y="514.0" width="76.79999999999998" height="62.0" fill="none" stroke="#c8c8c8" stroke-width="0.9"/>
<text x="53.40" y="582.52" font-size="6.38" text-anchor="middle" fill="#1e1e1e" stroke="#1e1e1e" stroke-width="0.22" font-weight="normal" textLength="3.56" lengthAdjust="spacingAndGlyphs">0</text>
<text x="72.60" y="582.52" font-size="6.38" text-anchor="middle" fill="#1e1e1e" stroke="#1e1e1e" stroke-width="0.22" font-weight="normal" textLength="10.69" lengthAdjust="spacingAndGlyphs">250</text>
<text x="91.80" y="582.52" font-size="6.38" text-anchor="middle" fill="#1e1e1e" stroke="#1e1e1e" stroke-width="0.22" font-weight="normal" textLength="10.69" lengthAdjust="spacingAndGlyphs">500</text>
<text x="111.00" y="582.52" font-size="6.38" text-anchor="middle" fill="#1e1e1e" stroke="#1e1e1e" stroke-width="0.22" font-weight="normal" textLength="10.69" lengthAdjust="spacingAndGlyphs">750</text>
<text x="130.20" y="582.52" font-size="6.38" text-anchor="middle" fill="#1e1e1e" stroke="#1e1e1e" stroke-width="0.22" font-weight="normal" textLength="14.25" lengthAdjust="spacingAndGlyphs">1000</text>
<text x="52.60" y="568.08" font-size="6.38" text-anchor="end" fill="#1e1e1e" stroke="#1e1e1e" stroke-width="0.22" font-weight="normal" textLength="8.91" lengthAdjust="spacingAndGlyphs">0.6</text>
<text x="52.60" y="547.42" font-size="6.38" text-anchor="end" fill="#1e1e1e" stroke="#1e1e1e" stroke-width="0.22" font-weight="normal" textLength="8.91" lengthAdjust="spacingAndGlyphs">0.7</text>
<text x="52.60" y="526.75" font-size="6.38" text-anchor="end" fill="#1e1e1e" stroke="#1e1e1e" stroke-width="0.22" font-weight="normal" textLength="8.91" lengthAdjust="spacingAndGlyphs">0.8</text>
</g>
<g>
<clipPath id="cF"><rect x="310.5" y="419.3" width="235.20000000000005" height="170.09999999999997"/></clipPath>
<g clip-path="url(#cF)" fill="none" stroke-linejoin="round" stroke-linecap="butt">
<path d="M320.5,581.0 322.1,581.0 323.6,574.6 324.4,571.9 325.4,569.4 326.2,571.6 327.0,573.3 328.5,568.6 330.3,564.6 331.1,567.1 332.0,569.1 333.4,564.6 335.2,560.8 336.0,563.4 336.9,565.4 338.3,561.0 340.1,557.2 340.9,559.8 341.8,561.9 343.2,557.5 345.0,553.7 345.8,556.4 346.7,558.5 348.1,554.1 349.9,550.3 350.7,553.0 351.6,555.1 353.0,550.7 354.9,546.9 355.6,549.6 356.5,551.8 357.9,547.3 359.8,543.5 360.5,546.3 361.4,548.4 362.8,544.0 364.7,540.2 365.5,542.9 366.3,545.1 367.7,540.6 369.6,536.8 370.4,539.6 371.2,541.8 372.7,537.3 374.5,533.4 375.3,536.3 376.1,538.5 377.6,534.0 379.4,530.1 380.2,533.0 381.0,535.2 382.5,530.6 384.3,526.8 385.1,529.6 385.9,531.9 387.4,527.3 389.2,523.4 390.0,526.3 390.8,528.5 392.3,524.0 394.1,520.1 394.9,523.0 395.8,525.2 397.2,520.6 399.0,516.7 399.8,519.7 400.7,521.9 402.1,517.3 403.9,513.4 404.7,516.3 405.6,518.6 407.0,514.0 408.8,510.0 409.6,513.0 410.5,515.3 411.9,510.7 412.8,508.6 413.8,506.7 414.5,509.7 415.4,512.0 416.8,507.3 417.7,505.3 418.7,503.4 419.4,506.4 420.3,508.7 421.7,504.0 422.6,502.0 423.6,500.0 424.4,503.0 425.2,505.4 426.6,500.7 427.5,498.6 428.5,496.7 429.3,499.7 430.1,502.1 431.6,497.3 432.4,495.3 433.4,493.3 434.2,496.4 435.0,498.8 436.5,494.0 437.3,491.9 438.3,490.0 439.1,493.1 439.9,495.5 441.4,490.7 442.2,488.6 443.2,486.6 444.0,489.7 444.8,492.2 446.3,487.4 447.1,485.3 448.1,483.3 448.9,486.4 449.7,488.8 451.2,484.0 452.0,481.9 453.0,480.0 453.8,483.1 454.7,485.5 456.1,480.7 456.9,478.6 457.9,476.6 458.7,479.8 459.6,482.2 461.0,477.4 461.9,475.3 462.8,473.3 463.6,476.5 464.5,478.9 465.9,474.0 466.8,471.9 467.7,469.9 468.5,473.1 469.4,475.6 470.8,470.7 471.7,468.6 472.6,466.6 473.4,469.8 474.3,472.3 475.7,467.4 476.6,465.2 477.6,463.2 478.3,466.5 479.2,469.0 480.6,464.0 481.5,461.9 482.5,459.9 483.2,463.2 484.1,465.7 485.5,460.7 486.4,458.6 487.4,456.6 488.2,459.8 489.0,462.4 490.4,457.4 491.3,455.2 492.3,453.2 493.1,456.5 493.9,459.1 495.4,454.1 496.2,451.9 497.2,449.9 498.0,453.2 498.8,455.8 500.3,450.7 501.1,448.6 502.1,446.5 502.9,449.9 503.7,452.5 505.2,447.4 506.0,445.2 507.0,443.2 507.8,446.5 508.6,449.1 510.1,444.1 510.9,441.9 511.9,439.8 512.7,443.2 513.5,445.8 515.0,440.7 515.8,438.5 516.8,436.5 517.6,439.9 518.5,442.5 519.9,437.4 520.7,435.2 521.7,433.2 522.5,436.6 523.4,439.2 524.8,434.1 525.7,431.9 526.6,429.8 527.4,433.3 528.3,435.9 529.7,430.8 530.6,428.5 531.5,426.5 532.3,429.9 533.2,432.6 534.0,429.3 535.0,426.3" stroke="#1f77b4" stroke-width="1.03"/>
<path d="M320.5,581.0 322.1,581.0 322.8,577.2 323.5,574.0 324.4,571.2 325.4,568.6 326.2,571.6 327.0,573.6 327.7,570.8 328.4,568.4 329.3,566.2 330.3,564.1 331.1,567.4 332.0,569.6 332.6,566.9 333.3,564.6 334.2,562.4 335.2,560.4 336.0,563.7 336.9,566.0 337.5,563.3 338.2,561.0 339.1,558.9 340.1,556.8 340.9,560.2 341.8,562.5 342.4,559.8 343.1,557.5 344.0,555.4 345.0,553.3 345.8,556.7 346.7,559.1 347.3,556.4 348.1,554.0 348.9,551.9 349.9,549.9 350.7,553.3 351.6,555.7 352.2,553.0 353.0,550.7 353.8,548.5 354.9,546.5 355.6,550.0 356.5,552.4 357.1,549.6 357.9,547.3 358.7,545.2 359.8,543.1 360.5,546.6 361.4,549.0 362.1,546.3 362.8,543.9 363.6,541.8 364.7,539.8 365.5,543.3 366.3,545.7 367.0,542.9 367.7,540.6 368.5,538.5 369.6,536.4 370.4,539.9 371.2,542.4 371.9,539.6 372.6,537.3 373.4,535.1 374.5,533.1 375.3,536.6 376.1,539.1 376.8,536.3 377.5,533.9 378.3,531.8 379.4,529.7 380.2,533.3 381.0,535.8 381.7,533.0 382.4,530.6 383.3,528.4 384.3,526.4 385.1,530.0 385.9,532.5 386.6,529.7 387.3,527.3 388.2,525.1 389.2,523.0 390.0,526.6 390.8,529.2 391.5,526.3 392.2,523.9 393.1,521.7 394.1,519.7 394.9,523.3 395.8,525.9 396.4,523.0 397.1,520.6 398.0,518.4 399.0,516.3 399.8,520.0 400.7,522.6 401.3,519.7 402.0,517.3 402.9,515.1 403.9,513.0 404.7,516.7 405.6,519.3 406.2,516.4 406.9,513.9 407.8,511.7 408.8,509.6 409.6,513.4 410.5,516.0 411.1,513.1 411.9,510.6 412.7,508.4 413.8,506.3 414.5,510.0 415.4,512.7 416.0,509.7 416.8,507.3 417.6,505.1 418.7,503.0 419.4,506.7 420.3,509.4 421.0,506.4 421.7,503.9 422.5,501.7 423.6,499.6 424.4,503.4 425.2,506.1 425.9,503.1 426.6,500.6 427.4,498.4 428.5,496.3 429.3,500.1 430.1,502.8 430.8,499.8 431.5,497.3 432.3,495.0 433.4,492.9 434.2,496.8 435.0,499.5 435.7,496.5 436.4,494.0 437.2,491.7 438.3,489.6 439.1,493.4 439.9,496.2 440.6,493.1 441.3,490.6 442.2,488.4 443.2,486.2 444.0,490.1 444.8,492.9 445.5,489.8 446.2,487.3 447.1,485.0 448.1,482.9 448.9,486.8 449.7,489.6 450.4,486.5 451.1,484.0 452.0,481.7 453.0,479.5 453.8,483.5 454.7,486.2 455.3,483.2 456.0,480.6 456.9,478.3 457.9,476.2 458.7,480.2 459.6,482.9 460.2,479.9 460.9,477.3 461.8,475.0 462.8,472.8 463.6,476.8 464.5,479.6 465.1,476.6 465.8,474.0 466.7,471.7 467.7,469.5 468.5,473.5 469.4,476.3 470.0,473.2 470.8,470.6 471.6,468.3 472.6,466.2 473.4,470.2 474.3,473.0 474.9,469.9 475.7,467.3 476.5,465.0 477.6,462.8 478.3,466.9 479.2,469.7 479.8,466.6 480.6,464.0 481.4,461.6 482.5,459.5 483.2,463.6 484.1,466.4 484.8,463.3 485.5,460.7 486.3,458.3 487.4,456.1 488.2,460.2 489.0,463.1 489.7,460.0 490.4,457.3 491.2,455.0 492.3,452.8 493.1,456.9 493.9,459.8 494.6,456.6 495.3,454.0 496.1,451.6 497.2,449.4 498.0,453.6 498.8,456.5 499.5,453.3 500.2,450.7 501.0,448.3 502.1,446.1 502.9,450.3 503.7,453.2 504.4,450.0 505.1,447.3 506.0,444.9 507.0,442.7 507.8,447.0 508.6,449.9 509.3,446.7 510.0,444.0 510.9,441.6 511.9,439.4 512.7,443.6 513.5,446.6 514.2,443.4 514.9,440.7 515.8,438.3 516.8,436.0 517.6,440.3 518.5,443.3 519.1,440.0 519.8,437.3 520.7,434.9 521.7,432.7 522.5,437.0 523.4,440.0 524.0,436.7 524.7,434.0 525.6,431.6 526.6,429.4 527.4,433.7 528.3,436.7 528.9,433.4 529.6,430.7 530.5,428.3 531.5,426.0 532.3,430.3 533.2,433.4 534.0,429.3 535.0,426.0" stroke="#ff7f0e" stroke-width="1.03"/>
<path d="M320.5,581.0 322.1,581.0 323.6,574.6 324.4,571.9 325.4,569.4 326.2,571.6 327.0,573.3 328.5,568.6 330.3,564.6 331.1,567.1 332.0,569.1 333.4,564.6 335.2,560.8 336.0,563.4 336.9,565.4 338.3,561.0 340.1,557.2 340.9,559.8 341.8,561.9 343.2,557.5 345.0,553.7 345.8,556.4 346.7,558.5 348.1,554.1 349.9,550.3 350.7,553.0 351.6,555.1 353.0,550.7 354.9,546.9 355.6,549.6 356.5,551.8 357.9,547.3 359.8,543.5 360.5,546.3 361.4,548.4 362.8,544.0 364.7,540.2 365.5,542.9 366.3,545.1 367.7,540.6 369.6,536.8 370.4,539.6 371.2,541.8 372.7,537.3 374.5,533.4 375.3,536.3 376.1,538.5 377.6,534.0 379.4,530.1 380.2,533.0 381.0,535.2 382.5,530.6 384.3,526.8 385.1,529.6 385.9,531.9 387.4,527.3 389.2,523.4 390.0,526.3 390.8,528.5 392.3,524.0 394.1,520.1 394.9,523.0 395.8,525.2 397.2,520.6 399.0,516.7 399.8,519.7 400.7,521.9 402.1,517.3 403.9,513.4 404.7,516.3 405.6,518.6 407.0,514.0 408.8,510.0 409.6,513.0 410.5,515.3 411.9,510.7 412.8,508.6 413.8,506.7 414.5,509.7 415.4,512.0 416.8,507.3 417.7,505.3 418.7,503.4 419.4,506.4 420.3,508.7 421.7,504.0 422.6,502.0 423.6,500.0 424.4,503.0 425.2,505.4 426.6,500.7 427.5,498.6 428.5,496.7 429.3,499.7 430.1,502.1 431.6,497.3 432.4,495.3 433.4,493.3 434.2,496.4 435.0,498.8 436.5,494.0 437.3,491.9 438.3,490.0 439.1,493.1 439.9,495.5 441.4,490.7 442.2,488.6 443.2,486.6 444.0,489.7 444.8,492.2 446.3,487.4 447.1,485.3 448.1,483.3 448.9,486.4 449.7,488.8 451.2,484.0 452.0,481.9 453.0,480.0 453.8,483.1 454.7,485.5 456.1,480.7 456.9,478.6 457.9,476.6 458.7,479.8 459.6,482.2 461.0,477.4 461.9,475.3 462.8,473.3 463.6,476.5 464.5,478.9 465.9,474.0 466.8,471.9 467.7,469.9 468.5,473.1 469.4,475.6 470.8,470.7 471.7,468.6 472.6,466.6 473.4,469.8 474.3,472.3 475.7,467.4 476.6,465.2 477.6,463.2 478.3,466.5 479.2,469.0 480.6,464.0 481.5,461.9 482.5,459.9 483.2,463.2 484.1,465.7 485.5,460.7 486.4,458.6 487.4,456.6 488.2,459.8 489.0,462.4 490.4,457.4 491.3,455.2 492.3,453.2 493.1,456.5 493.9,459.1 495.4,454.1 496.2,451.9 497.2,449.9 498.0,453.2 498.8,455.8 500.3,450.7 501.1,448.6 502.1,446.5 502.9,449.9 503.7,452.5 505.2,447.4 506.0,445.2 507.0,443.2 507.8,446.5 508.6,449.1 510.1,444.1 510.9,441.9 511.9,439.8 512.7,443.2 513.5,445.8 515.0,440.7 515.8,438.5 516.8,436.5 517.6,439.9 518.5,442.5 519.9,437.4 520.7,435.2 521.7,433.2 522.5,436.6 523.4,439.2 524.8,434.1 525.7,431.9 526.6,429.8 527.4,433.3 528.3,435.9 529.7,430.8 530.6,428.5 531.5,426.5 532.3,429.9 533.2,432.6 534.0,429.3 535.0,426.3" stroke="#4caa4c" stroke-width="1.24"/>
</g>
<rect x="310.5" y="419.3" width="235.20000000000005" height="170.09999999999997" fill="none" stroke="#6a6a6a" stroke-width="1.35"/>
<line x1="320.50" y1="589.4" x2="320.50" y2="591.4" stroke="#6a6a6a" stroke-width="0.8"/>
<text x="320.50" y="599.40" font-size="8.80" text-anchor="middle" fill="#1e1e1e" stroke="#1e1e1e" stroke-width="0.22" font-weight="normal" textLength="4.20" lengthAdjust="spacingAndGlyphs">0</text>
<line x1="353.22" y1="589.4" x2="353.22" y2="591.4" stroke="#6a6a6a" stroke-width="0.8"/>
<text x="353.22" y="599.40" font-size="8.80" text-anchor="middle" fill="#1e1e1e" stroke="#1e1e1e" stroke-width="0.22" font-weight="normal" textLength="16.80" lengthAdjust="spacingAndGlyphs">1000</text>
<line x1="385.94" y1="589.4" x2="385.94" y2="591.4" stroke="#6a6a6a" stroke-width="0.8"/>
<text x="385.94" y="599.40" font-size="8.80" text-anchor="middle" fill="#1e1e1e" stroke="#1e1e1e" stroke-width="0.22" font-weight="normal" textLength="16.80" lengthAdjust="spacingAndGlyphs">2000</text>
<line x1="418.66" y1="589.4" x2="418.66" y2="591.4" stroke="#6a6a6a" stroke-width="0.8"/>
<text x="418.66" y="599.40" font-size="8.80" text-anchor="middle" fill="#1e1e1e" stroke="#1e1e1e" stroke-width="0.22" font-weight="normal" textLength="16.80" lengthAdjust="spacingAndGlyphs">3000</text>
<line x1="451.38" y1="589.4" x2="451.38" y2="591.4" stroke="#6a6a6a" stroke-width="0.8"/>
<text x="451.38" y="599.40" font-size="8.80" text-anchor="middle" fill="#1e1e1e" stroke="#1e1e1e" stroke-width="0.22" font-weight="normal" textLength="16.80" lengthAdjust="spacingAndGlyphs">4000</text>
<line x1="484.10" y1="589.4" x2="484.10" y2="591.4" stroke="#6a6a6a" stroke-width="0.8"/>
<text x="484.10" y="599.40" font-size="8.80" text-anchor="middle" fill="#1e1e1e" stroke="#1e1e1e" stroke-width="0.22" font-weight="normal" textLength="16.80" lengthAdjust="spacingAndGlyphs">5000</text>
<line x1="516.82" y1="589.4" x2="516.82" y2="591.4" stroke="#6a6a6a" stroke-width="0.8"/>
<text x="516.82" y="599.40" font-size="8.80" text-anchor="middle" fill="#1e1e1e" stroke="#1e1e1e" stroke-width="0.22" font-weight="normal" textLength="16.80" lengthAdjust="spacingAndGlyphs">6000</text>
<line x1="308.5" y1="580.10" x2="310.5" y2="580.10" stroke="#6a6a6a" stroke-width="0.8"/>
<text x="305.50" y="583.00" font-size="8.80" text-anchor="end" fill="#1e1e1e" stroke="#1e1e1e" stroke-width="0.22" font-weight="normal" textLength="10.50" lengthAdjust="spacingAndGlyphs">0.5</text>
<line x1="308.5" y1="548.72" x2="310.5" y2="548.72" stroke="#6a6a6a" stroke-width="0.8"/>
<text x="305.50" y="551.62" font-size="8.80" text-anchor="end" fill="#1e1e1e" stroke="#1e1e1e" stroke-width="0.22" font-weight="normal" textLength="10.50" lengthAdjust="spacingAndGlyphs">0.6</text>
<line x1="308.5" y1="517.34" x2="310.5" y2="517.34" stroke="#6a6a6a" stroke-width="0.8"/>
<text x="305.50" y="520.24" font-size="8.80" text-anchor="end" fill="#1e1e1e" stroke="#1e1e1e" stroke-width="0.22" font-weight="normal" textLength="10.50" lengthAdjust="spacingAndGlyphs">0.7</text>
<line x1="308.5" y1="485.96" x2="310.5" y2="485.96" stroke="#6a6a6a" stroke-width="0.8"/>
<text x="305.50" y="488.86" font-size="8.80" text-anchor="end" fill="#1e1e1e" stroke="#1e1e1e" stroke-width="0.22" font-weight="normal" textLength="10.50" lengthAdjust="spacingAndGlyphs">0.8</text>
<line x1="308.5" y1="454.58" x2="310.5" y2="454.58" stroke="#6a6a6a" stroke-width="0.8"/>
<text x="305.50" y="457.48" font-size="8.80" text-anchor="end" fill="#1e1e1e" stroke="#1e1e1e" stroke-width="0.22" font-weight="normal" textLength="10.50" lengthAdjust="spacingAndGlyphs">0.9</text>
<line x1="308.5" y1="423.20" x2="310.5" y2="423.20" stroke="#6a6a6a" stroke-width="0.8"/>
<text x="305.50" y="426.10" font-size="8.80" text-anchor="end" fill="#1e1e1e" stroke="#1e1e1e" stroke-width="0.22" font-weight="normal" textLength="10.50" lengthAdjust="spacingAndGlyphs">1.0</text>
<text x="428.10" y="610.10" font-size="8.60" text-anchor="middle" fill="#1e1e1e" stroke="#1e1e1e" stroke-width="0.22" font-weight="normal" textLength="36.19" lengthAdjust="spacingAndGlyphs">Time [s]</text>
<text x="289.90" y="504.35" font-size="8.60" text-anchor="middle" fill="#1e1e1e" stroke="#1e1e1e" stroke-width="0.22" font-weight="normal" textLength="102.52" lengthAdjust="spacingAndGlyphs" transform="rotate(-90 289.90 504.35)">Positive Electrode SOC</text>
<text x="279.4" y="416.5" font-size="10.3" font-weight="bold" fill="#111">F</text>
<rect x="312.7" y="422.7" width="119.60000000000002" height="35.60000000000002" rx="1.5" fill="#fff" fill-opacity="0.85" stroke="#d9d9d9" stroke-width="0.8"/>
<line x1="315.3" y1="428.90" x2="330.59999999999997" y2="428.90" stroke="#3a86c0" stroke-width="1.15"/>
<text x="335.70" y="431.60" font-size="8.50" text-anchor="start" fill="#1e1e1e" stroke="#1e1e1e" stroke-width="0.22" font-weight="normal" textLength="84.27" lengthAdjust="spacingAndGlyphs">Crank-Nicolson Scheme</text>
<line x1="315.3" y1="440.30" x2="330.59999999999997" y2="440.30" stroke="#ff9233" stroke-width="1.15"/>
<text x="335.70" y="443.00" font-size="8.50" text-anchor="start" fill="#1e1e1e" stroke="#1e1e1e" stroke-width="0.22" font-weight="normal" textLength="87.54" lengthAdjust="spacingAndGlyphs">Eigen Expansion Method</text>
<line x1="315.3" y1="451.70" x2="330.59999999999997" y2="451.70" stroke="#4caa4c" stroke-width="1.15"/>
<text x="335.70" y="454.40" font-size="8.50" text-anchor="start" fill="#1e1e1e" stroke="#1e1e1e" stroke-width="0.22" font-weight="normal" textLength="92.66" lengthAdjust="spacingAndGlyphs">Polynomial Approximation</text>
<rect x="451.4" y="513.4" width="76.60000000000002" height="61.60000000000002" fill="#fff" stroke="none"/>
<clipPath id="iF"><rect x="451.4" y="513.4" width="76.60000000000002" height="61.60000000000002"/></clipPath>
<g clip-path="url(#iF)" fill="none" stroke-linejoin="round">
<path d="M451.4,532.7 455.2,532.7 456.8,535.3 458.6,537.5 460.6,539.7 462.9,541.7 464.7,540.2 466.7,539.0 468.3,540.9 470.1,542.6 472.1,544.3 474.4,546.0 476.2,544.3 478.2,543.0 479.8,544.8 481.6,546.4 483.6,548.0 485.9,549.6 487.7,547.9 489.7,546.5 491.3,548.3 493.1,549.9 495.1,551.5 497.4,553.1 499.2,551.3 501.2,550.0 502.8,551.7 504.6,553.4 506.6,555.0 508.9,556.6 510.7,554.8 512.7,553.4 514.3,555.2 516.1,556.8 518.0,558.4 520.3,560.0 522.2,558.1 524.2,556.7 526.0,558.8 528.0,560.6" stroke="#1f77b4" stroke-width="1.03"/>
<path d="M451.4,532.7 455.2,532.7 456.8,535.5 458.5,538.0 460.5,540.2 462.9,542.2 464.7,540.2 466.7,538.8 468.3,540.9 470.0,542.8 472.0,544.6 474.4,546.3 476.1,544.2 478.2,542.6 479.7,544.6 481.5,546.5 483.5,548.2 485.9,549.9 487.6,547.7 489.7,546.1 491.2,548.2 493.0,550.0 495.0,551.7 497.4,553.4 499.1,551.2 501.2,549.6 502.7,551.6 504.5,553.5 506.5,555.2 508.9,556.8 510.6,554.6 512.7,553.0 514.2,555.0 516.0,556.9 518.0,558.6 520.3,560.2 522.1,558.0 524.2,556.3 525.9,558.7 528.0,560.7" stroke="#ff7f0e" stroke-width="1.03"/>
<path d="M451.4,532.7 455.2,532.7 456.8,535.3 458.6,537.5 460.6,539.7 462.9,541.7 464.7,540.2 466.7,539.0 468.3,540.9 470.1,542.6 472.1,544.3 474.4,546.0 476.2,544.3 478.2,543.0 479.8,544.8 481.6,546.4 483.6,548.0 485.9,549.6 487.7,547.9 489.7,546.5 491.3,548.3 493.1,549.9 495.1,551.5 497.4,553.1 499.2,551.3 501.2,550.0 502.8,551.7 504.6,553.4 506.6,555.0 508.9,556.6 510.7,554.8 512.7,553.4 514.3,555.2 516.1,556.8 518.0,558.4 520.3,560.0 522.2,558.1 524.2,556.7 526.0,558.8 528.0,560.6" stroke="#4caa4c" stroke-width="1.24"/>
</g>
<rect x="451.4" y="513.4" width="76.60000000000002" height="61.60000000000002" fill="none" stroke="#c8c8c8" stroke-width="0.9"/>
<text x="451.40" y="581.52" font-size="6.38" text-anchor="middle" fill="#1e1e1e" stroke="#1e1e1e" stroke-width="0.22" font-weight="normal" textLength="3.56" lengthAdjust="spacingAndGlyphs">0</text>
<text x="470.55" y="581.52" font-size="6.38" text-anchor="middle" fill="#1e1e1e" stroke="#1e1e1e" stroke-width="0.22" font-weight="normal" textLength="10.69" lengthAdjust="spacingAndGlyphs">250</text>
<text x="489.70" y="581.52" font-size="6.38" text-anchor="middle" fill="#1e1e1e" stroke="#1e1e1e" stroke-width="0.22" font-weight="normal" textLength="10.69" lengthAdjust="spacingAndGlyphs">500</text>
<text x="508.85" y="581.52" font-size="6.38" text-anchor="middle" fill="#1e1e1e" stroke="#1e1e1e" stroke-width="0.22" font-weight="normal" textLength="10.69" lengthAdjust="spacingAndGlyphs">750</text>
<text x="528.00" y="581.52" font-size="6.38" text-anchor="middle" fill="#1e1e1e" stroke="#1e1e1e" stroke-width="0.22" font-weight="normal" textLength="14.25" lengthAdjust="spacingAndGlyphs">1000</text>
<text x="450.40" y="567.25" font-size="6.38" text-anchor="end" fill="#1e1e1e" stroke="#1e1e1e" stroke-width="0.22" font-weight="normal" textLength="8.91" lengthAdjust="spacingAndGlyphs">0.6</text>
<text x="450.40" y="546.72" font-size="6.38" text-anchor="end" fill="#1e1e1e" stroke="#1e1e1e" stroke-width="0.22" font-weight="normal" textLength="8.91" lengthAdjust="spacingAndGlyphs">0.7</text>
<text x="450.40" y="526.18" font-size="6.38" text-anchor="end" fill="#1e1e1e" stroke="#1e1e1e" stroke-width="0.22" font-weight="normal" textLength="8.91" lengthAdjust="spacingAndGlyphs">0.8</text>
</g>
</svg></body></html>
